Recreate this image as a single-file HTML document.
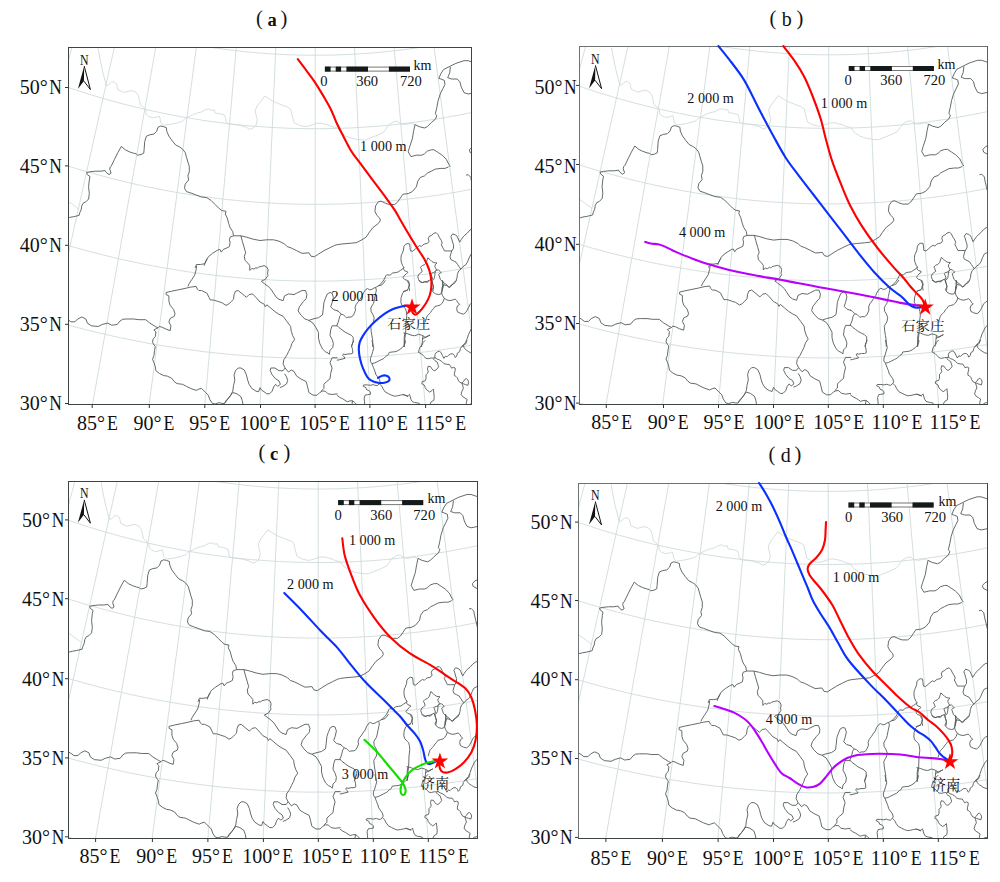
<!DOCTYPE html>
<html><head><meta charset="utf-8"><style>
html,body{margin:0;padding:0;background:#fff;}
svg{display:block;}
text{font-family:"Liberation Serif","Noto Serif CJK SC",serif;fill:#111;}
.cjk{font-family:"Noto Serif CJK SC","Liberation Serif",serif;}
.ax{}
</style></head><body>
<svg width="1000" height="882" viewBox="0 0 1000 882">
<defs>
<g id="base">
<g fill="none" stroke="#ccd8da" stroke-width="0.85">
<path d="M-181,453.1 L-178.7,446.1 L-176.5,439.1 L-174.3,432 L-172,425 L-169.8,417.9 L-167.5,410.8 L-165.3,403.7 L-163,396.6 L-160.7,389.5 L-158.5,382.4 L-156.2,375.2 L-153.9,368.1 L-151.6,361 L-149.4,353.8 L-147.1,346.6 L-144.8,339.4 L-142.5,332.2 L-140.2,325 L-137.9,317.8 L-135.6,310.6 L-133.3,303.4 L-131,296.2 L-128.7,289 L-126.4,281.7 L-124.1,274.5 L-121.8,267.2 L-119.5,260 L-117.2,252.7 L-114.9,245.5 L-112.6,238.2 L-110.3,231 L-108,223.7 L-105.7,216.4 L-103.3,209.2 L-101,201.9 L-98.7,194.7 L-96.4,187.4 L-94.1,180.2 L-91.8,172.9 L-89.5,165.6 L-87.2,158.4 L-84.9,151.2 L-82.6,143.9 L-80.3,136.7 L-78,129.5 L-75.7,122.3 L-73.4,115 L-71.1,107.8 L-68.8,100.7 L-66.5,93.5 L-64.2,86.3 L-62,79.1 L-59.7,72 L-57.4,64.9 L-55.2,57.8 L-52.9,50.7 L-50.6,43.6 L-48.4,36.5 L-46.2,29.4 L-43.9,22.4 L-41.7,15.4 L-39.5,8.4 L-37.2,1.4 L-35,-5.5 L-32.8,-12.4 L-30.6,-19.3 L-28.4,-26.2 L-26.3,-33.1 L-24.1,-39.9 L-21.9,-46.7 L-19.8,-53.4 L-17.6,-60.1 L-15.5,-66.8 L-13.4,-73.5 L-11.3,-80.1 L-9.2,-86.7 L-7.1,-93.2 L-5,-99.7 L-3,-106.2 L-0.9,-112.6"/>
<path d="M-121.4,475.9 L-119.5,468.7 L-117.6,461.6 L-115.6,454.4 L-113.7,447.3 L-111.8,440.1 L-109.8,432.9 L-107.9,425.7 L-105.9,418.5 L-104,411.2 L-102,404 L-100.1,396.7 L-98.1,389.5 L-96.1,382.2 L-94.2,374.9 L-92.2,367.6 L-90.2,360.3 L-88.3,353 L-86.3,345.7 L-84.3,338.3 L-82.3,331 L-80.3,323.7 L-78.4,316.3 L-76.4,309 L-74.4,301.6 L-72.4,294.3 L-70.4,286.9 L-68.4,279.5 L-66.4,272.1 L-64.5,264.8 L-62.5,257.4 L-60.5,250 L-58.5,242.6 L-56.5,235.2 L-54.5,227.9 L-52.5,220.5 L-50.5,213.1 L-48.5,205.7 L-46.5,198.3 L-44.5,191 L-42.6,183.6 L-40.6,176.2 L-38.6,168.9 L-36.6,161.5 L-34.6,154.2 L-32.6,146.8 L-30.7,139.5 L-28.7,132.1 L-26.7,124.8 L-24.7,117.5 L-22.8,110.2 L-20.8,102.9 L-18.8,95.6 L-16.9,88.4 L-14.9,81.1 L-13,73.9 L-11,66.7 L-9.1,59.5 L-7.1,52.3 L-5.2,45.1 L-3.3,38 L-1.3,30.8 L0.6,23.7 L2.5,16.6 L4.4,9.6 L6.3,2.5 L8.2,-4.5 L10.1,-11.5 L11.9,-18.4 L13.8,-25.4 L15.7,-32.3 L17.5,-39.1 L19.4,-46 L21.2,-52.8 L23,-59.6 L24.9,-66.3 L26.7,-73 L28.5,-79.6 L30.2,-86.2 L32,-92.8 L33.8,-99.3"/>
<path d="M-60.9,495.2 L-59.3,488 L-57.7,480.8 L-56.1,473.5 L-54.5,466.2 L-52.8,459 L-51.2,451.7 L-49.6,444.3 L-48,437 L-46.3,429.7 L-44.7,422.3 L-43,415 L-41.4,407.6 L-39.8,400.2 L-38.1,392.9 L-36.5,385.5 L-34.8,378.1 L-33.2,370.6 L-31.5,363.2 L-29.9,355.8 L-28.2,348.4 L-26.5,340.9 L-24.9,333.5 L-23.2,326 L-21.6,318.5 L-19.9,311.1 L-18.2,303.6 L-16.6,296.1 L-14.9,288.7 L-13.2,281.2 L-11.6,273.7 L-9.9,266.2 L-8.2,258.7 L-6.6,251.2 L-4.9,243.8 L-3.2,236.3 L-1.6,228.8 L0.1,221.3 L1.8,213.8 L3.4,206.3 L5.1,198.9 L6.8,191.4 L8.4,183.9 L10.1,176.5 L11.8,169 L13.4,161.6 L15.1,154.1 L16.7,146.7 L18.4,139.3 L20,131.9 L21.7,124.5 L23.3,117.1 L25,109.7 L26.6,102.3 L28.3,95 L29.9,87.6 L31.5,80.3 L33.1,73 L34.8,65.7 L36.4,58.4 L38,51.2 L39.6,43.9 L41.2,36.7 L42.8,29.5 L44.4,22.4 L46,15.2 L47.6,8.1 L49.2,1 L50.7,-6 L52.3,-13 L53.9,-20 L55.4,-27 L57,-33.9 L58.5,-40.8 L60,-47.7 L61.6,-54.5 L63.1,-61.3 L64.6,-68.1 L66.1,-74.8 L67.5,-81.4 L69,-88.1"/>
<path d="M0.3,511.2 L1.6,503.9 L2.9,496.5 L4.2,489.2 L5.5,481.8 L6.8,474.5 L8.1,467.1 L9.4,459.7 L10.7,452.3 L12.1,444.9 L13.4,437.4 L14.7,430 L16,422.5 L17.3,415.1 L18.6,407.6 L20,400.1 L21.3,392.6 L22.6,385.1 L24,377.6 L25.3,370.1 L26.6,362.6 L27.9,355.1 L29.3,347.5 L30.6,340 L31.9,332.5 L33.3,324.9 L34.6,317.4 L36,309.8 L37.3,302.2 L38.6,294.7 L40,287.1 L41.3,279.5 L42.7,272 L44,264.4 L45.3,256.8 L46.7,249.2 L48,241.7 L49.4,234.1 L50.7,226.5 L52,219 L53.4,211.4 L54.7,203.9 L56,196.3 L57.4,188.8 L58.7,181.2 L60,173.7 L61.4,166.2 L62.7,158.6 L64,151.1 L65.4,143.6 L66.7,136.2 L68,128.7 L69.3,121.2 L70.7,113.8 L72,106.3 L73.3,98.9 L74.6,91.5 L75.9,84.1 L77.2,76.7 L78.5,69.4 L79.8,62 L81.1,54.7 L82.4,47.4 L83.7,40.2 L85,32.9 L86.2,25.7 L87.5,18.5 L88.8,11.3 L90,4.2 L91.3,-2.9 L92.5,-10 L93.8,-17 L95,-24 L96.3,-31 L97.5,-38 L98.7,-44.9 L99.9,-51.7 L101.1,-58.6 L102.3,-65.3 L103.5,-72.1 L104.7,-78.8"/>
<path d="M62.2,523.6 L63.2,516.2 L64.1,508.8 L65.1,501.4 L66.1,494 L67.1,486.6 L68.1,479.1 L69,471.7 L70,464.2 L71,456.7 L72,449.2 L73,441.7 L74,434.2 L75,426.7 L76,419.1 L77,411.6 L78,404 L79,396.5 L80,388.9 L81,381.3 L82,373.7 L83,366.1 L84,358.5 L85,350.9 L86,343.3 L87,335.7 L88,328.1 L89,320.5 L90,312.8 L91,305.2 L92,297.6 L93,289.9 L94.1,282.3 L95.1,274.7 L96.1,267 L97.1,259.4 L98.1,251.7 L99.1,244.1 L100.1,236.5 L101.1,228.8 L102.1,221.2 L103.1,213.6 L104.1,206 L105.1,198.4 L106.1,190.8 L107.1,183.2 L108.1,175.6 L109.2,168 L110.2,160.4 L111.2,152.8 L112.1,145.3 L113.1,137.7 L114.1,130.2 L115.1,122.7 L116.1,115.2 L117.1,107.7 L118.1,100.2 L119.1,92.8 L120.1,85.3 L121,77.9 L122,70.5 L123,63.2 L124,55.8 L124.9,48.5 L125.9,41.2 L126.9,33.9 L127.8,26.6 L128.8,19.4 L129.7,12.2 L130.7,5 L131.6,-2.1 L132.6,-9.2 L133.5,-16.3 L134.4,-23.4 L135.3,-30.4 L136.3,-37.3 L137.2,-44.2 L138.1,-51.1 L139,-58 L139.9,-64.8 L140.8,-71.5"/>
<path d="M124.5,532.5 L125.2,525.1 L125.8,517.7 L126.5,510.2 L127.1,502.7 L127.8,495.3 L128.4,487.8 L129.1,480.3 L129.8,472.7 L130.4,465.2 L131.1,457.7 L131.8,450.1 L132.4,442.6 L133.1,435 L133.7,427.4 L134.4,419.8 L135.1,412.2 L135.8,404.6 L136.4,397 L137.1,389.3 L137.8,381.7 L138.4,374.1 L139.1,366.4 L139.8,358.8 L140.4,351.1 L141.1,343.4 L141.8,335.8 L142.5,328.1 L143.1,320.4 L143.8,312.8 L144.5,305.1 L145.2,297.4 L145.8,289.7 L146.5,282 L147.2,274.3 L147.9,266.6 L148.5,259 L149.2,251.3 L149.9,243.6 L150.6,235.9 L151.2,228.2 L151.9,220.6 L152.6,212.9 L153.3,205.2 L153.9,197.6 L154.6,189.9 L155.3,182.3 L155.9,174.7 L156.6,167.1 L157.3,159.4 L157.9,151.8 L158.6,144.3 L159.3,136.7 L159.9,129.1 L160.6,121.6 L161.3,114 L161.9,106.5 L162.6,99 L163.2,91.5 L163.9,84.1 L164.6,76.6 L165.2,69.2 L165.9,61.8 L166.5,54.4 L167.2,47.1 L167.8,39.7 L168.4,32.4 L169.1,25.1 L169.7,17.9 L170.3,10.7 L171,3.5 L171.6,-3.7 L172.2,-10.8 L172.9,-17.9 L173.5,-24.9 L174.1,-31.9 L174.7,-38.9 L175.3,-45.8 L175.9,-52.7 L176.5,-59.5 L177.1,-66.3"/>
<path d="M187.2,537.9 L187.5,530.4 L187.8,523 L188.1,515.5 L188.5,508 L188.8,500.5 L189.1,493 L189.5,485.4 L189.8,477.9 L190.1,470.3 L190.5,462.8 L190.8,455.2 L191.1,447.6 L191.5,440 L191.8,432.4 L192.1,424.8 L192.5,417.1 L192.8,409.5 L193.1,401.8 L193.5,394.2 L193.8,386.5 L194.2,378.9 L194.5,371.2 L194.8,363.5 L195.2,355.8 L195.5,348.1 L195.9,340.4 L196.2,332.7 L196.5,325 L196.9,317.3 L197.2,309.6 L197.5,301.9 L197.9,294.2 L198.2,286.4 L198.6,278.7 L198.9,271 L199.2,263.3 L199.6,255.6 L199.9,247.9 L200.3,240.2 L200.6,232.5 L200.9,224.8 L201.3,217.1 L201.6,209.4 L202,201.7 L202.3,194 L202.6,186.4 L203,178.7 L203.3,171.1 L203.6,163.4 L204,155.8 L204.3,148.2 L204.6,140.6 L205,133 L205.3,125.4 L205.7,117.8 L206,110.3 L206.3,102.8 L206.6,95.2 L207,87.8 L207.3,80.3 L207.6,72.8 L208,65.4 L208.3,58 L208.6,50.6 L208.9,43.3 L209.3,35.9 L209.6,28.6 L209.9,21.3 L210.2,14.1 L210.5,6.9 L210.9,-0.3 L211.2,-7.4 L211.5,-14.5 L211.8,-21.6 L212.1,-28.6 L212.4,-35.6 L212.7,-42.6 L213,-49.5 L213.3,-56.4 L213.6,-63.2"/>
<path d="M250,539.7 L250,532.2 L250,524.8 L250,517.3 L250,509.8 L250,502.3 L250,494.7 L250,487.2 L250,479.6 L250,472.1 L250,464.5 L250,456.9 L250,449.3 L250,441.7 L250,434.1 L250,426.4 L250,418.8 L250,411.1 L250,403.5 L250,395.8 L250,388.1 L250,380.5 L250,372.8 L250,365.1 L250,357.4 L250,349.7 L250,342 L250,334.3 L250,326.6 L250.1,318.8 L250.1,311.1 L250.1,303.4 L250.1,295.7 L250.1,287.9 L250.1,280.2 L250.1,272.5 L250.1,264.8 L250.1,257.1 L250.1,249.3 L250.1,241.6 L250.1,233.9 L250.1,226.2 L250.1,218.5 L250.1,210.8 L250.1,203.1 L250.1,195.4 L250.1,187.7 L250.1,180.1 L250.1,172.4 L250.1,164.8 L250.1,157.1 L250.1,149.5 L250.1,141.9 L250.1,134.3 L250.1,126.7 L250.1,119.1 L250.1,111.6 L250.1,104 L250.2,96.5 L250.2,89 L250.2,81.5 L250.2,74.1 L250.2,66.6 L250.2,59.2 L250.2,51.8 L250.2,44.4 L250.2,37.1 L250.2,29.8 L250.2,22.5 L250.2,15.3 L250.2,8 L250.2,0.9 L250.2,-6.3 L250.2,-13.4 L250.2,-20.5 L250.2,-27.5 L250.2,-34.5 L250.2,-41.5 L250.2,-48.4 L250.2,-55.3 L250.2,-62.1"/>
<path d="M312.8,538 L312.4,530.5 L312.1,523 L311.8,515.6 L311.5,508.1 L311.1,500.6 L310.8,493 L310.5,485.5 L310.2,478 L309.8,470.4 L309.5,462.8 L309.2,455.3 L308.9,447.7 L308.5,440.1 L308.2,432.4 L307.9,424.8 L307.5,417.2 L307.2,409.6 L306.9,401.9 L306.6,394.3 L306.2,386.6 L305.9,378.9 L305.6,371.2 L305.2,363.6 L304.9,355.9 L304.6,348.2 L304.2,340.5 L303.9,332.8 L303.6,325.1 L303.2,317.4 L302.9,309.7 L302.6,301.9 L302.2,294.2 L301.9,286.5 L301.6,278.8 L301.2,271.1 L300.9,263.4 L300.6,255.7 L300.2,247.9 L299.9,240.2 L299.6,232.5 L299.2,224.8 L298.9,217.1 L298.6,209.5 L298.3,201.8 L297.9,194.1 L297.6,186.4 L297.3,178.8 L296.9,171.1 L296.6,163.5 L296.3,155.8 L295.9,148.2 L295.6,140.6 L295.3,133 L295,125.4 L294.6,117.9 L294.3,110.3 L294,102.8 L293.7,95.3 L293.3,87.8 L293,80.3 L292.7,72.9 L292.4,65.4 L292.1,58 L291.7,50.7 L291.4,43.3 L291.1,36 L290.8,28.7 L290.5,21.4 L290.2,14.2 L289.8,6.9 L289.5,-0.2 L289.2,-7.4 L288.9,-14.5 L288.6,-21.6 L288.3,-28.6 L288,-35.6 L287.7,-42.6 L287.4,-49.5 L287.1,-56.3 L286.8,-63.2"/>
<path d="M375.4,532.7 L374.8,525.2 L374.1,517.8 L373.5,510.3 L372.8,502.9 L372.2,495.4 L371.5,487.9 L370.9,480.4 L370.2,472.9 L369.5,465.4 L368.9,457.8 L368.2,450.3 L367.6,442.7 L366.9,435.1 L366.3,427.5 L365.6,419.9 L364.9,412.3 L364.3,404.7 L363.6,397.1 L363,389.5 L362.3,381.8 L361.6,374.2 L361,366.6 L360.3,358.9 L359.6,351.2 L359,343.6 L358.3,335.9 L357.6,328.2 L357,320.6 L356.3,312.9 L355.6,305.2 L355,297.5 L354.3,289.8 L353.6,282.1 L353,274.4 L352.3,266.8 L351.6,259.1 L350.9,251.4 L350.3,243.7 L349.6,236 L348.9,228.4 L348.3,220.7 L347.6,213 L346.9,205.4 L346.3,197.7 L345.6,190.1 L345,182.4 L344.3,174.8 L343.6,167.2 L343,159.5 L342.3,151.9 L341.6,144.4 L341,136.8 L340.3,129.2 L339.7,121.7 L339,114.1 L338.4,106.6 L337.7,99.1 L337.1,91.6 L336.4,84.2 L335.8,76.7 L335.1,69.3 L334.5,61.9 L333.8,54.5 L333.2,47.2 L332.6,39.8 L331.9,32.5 L331.3,25.2 L330.7,18 L330,10.8 L329.4,3.6 L328.8,-3.6 L328.2,-10.7 L327.6,-17.8 L326.9,-24.8 L326.3,-31.8 L325.7,-38.8 L325.1,-45.7 L324.5,-52.6 L323.9,-59.4 L323.3,-66.2"/>
<path d="M437.7,523.8 L436.8,516.4 L435.8,509.1 L434.8,501.6 L433.9,494.2 L432.9,486.8 L431.9,479.3 L430.9,471.9 L429.9,464.4 L429,456.9 L428,449.4 L427,441.9 L426,434.4 L425,426.9 L424,419.3 L423,411.8 L422.1,404.2 L421.1,396.7 L420.1,389.1 L419.1,381.5 L418.1,373.9 L417.1,366.3 L416.1,358.7 L415.1,351.1 L414.1,343.5 L413.1,335.9 L412.1,328.3 L411.1,320.6 L410.1,313 L409.1,305.4 L408.1,297.8 L407.1,290.1 L406.1,282.5 L405.1,274.8 L404.1,267.2 L403.1,259.6 L402.1,251.9 L401.1,244.3 L400.1,236.6 L399.1,229 L398.1,221.4 L397.1,213.8 L396.1,206.1 L395.1,198.5 L394.1,190.9 L393.1,183.3 L392.1,175.7 L391.1,168.1 L390.1,160.6 L389.1,153 L388.1,145.5 L387.1,137.9 L386.1,130.4 L385.1,122.9 L384.2,115.4 L383.2,107.9 L382.2,100.4 L381.2,92.9 L380.2,85.5 L379.3,78.1 L378.3,70.7 L377.3,63.3 L376.4,55.9 L375.4,48.6 L374.5,41.3 L373.5,34 L372.5,26.8 L371.6,19.5 L370.7,12.3 L369.7,5.1 L368.8,-2 L367.8,-9.1 L366.9,-16.2 L366,-23.2 L365.1,-30.2 L364.2,-37.2 L363.3,-44.1 L362.3,-51 L361.5,-57.8 L360.6,-64.6 L359.7,-71.4"/>
<path d="M499.6,511.5 L498.3,504.1 L497,496.8 L495.7,489.5 L494.4,482.1 L493.2,474.7 L491.9,467.4 L490.5,460 L489.2,452.6 L487.9,445.1 L486.6,437.7 L485.3,430.3 L484,422.8 L482.7,415.4 L481.4,407.9 L480.1,400.4 L478.7,392.9 L477.4,385.4 L476.1,377.9 L474.8,370.4 L473.5,362.9 L472.1,355.3 L470.8,347.8 L469.5,340.3 L468.1,332.7 L466.8,325.2 L465.5,317.6 L464.2,310 L462.8,302.5 L461.5,294.9 L460.2,287.3 L458.8,279.8 L457.5,272.2 L456.2,264.6 L454.8,257.1 L453.5,249.5 L452.2,241.9 L450.8,234.3 L449.5,226.8 L448.2,219.2 L446.8,211.6 L445.5,204.1 L444.2,196.5 L442.8,189 L441.5,181.4 L440.2,173.9 L438.9,166.4 L437.5,158.9 L436.2,151.4 L434.9,143.9 L433.6,136.4 L432.3,128.9 L431,121.4 L429.6,114 L428.3,106.5 L427,99.1 L425.7,91.7 L424.4,84.3 L423.1,76.9 L421.8,69.6 L420.5,62.2 L419.2,54.9 L418,47.6 L416.7,40.4 L415.4,33.1 L414.1,25.9 L412.9,18.7 L411.6,11.5 L410.3,4.4 L409.1,-2.7 L407.8,-9.8 L406.6,-16.8 L405.4,-23.9 L404.1,-30.8 L402.9,-37.8 L401.7,-44.7 L400.5,-51.6 L399.3,-58.4 L398.1,-65.2 L396.9,-71.9 L395.7,-78.6"/>
<path d="M560.9,495.6 L559.3,488.4 L557.7,481.1 L556.1,473.9 L554.4,466.6 L552.8,459.3 L551.2,452 L549.6,444.7 L548,437.4 L546.3,430 L544.7,422.7 L543.1,415.3 L541.4,408 L539.8,400.6 L538.2,393.2 L536.5,385.8 L534.9,378.4 L533.2,371 L531.6,363.5 L529.9,356.1 L528.3,348.7 L526.6,341.2 L525,333.8 L523.3,326.3 L521.7,318.9 L520,311.4 L518.4,303.9 L516.7,296.4 L515,289 L513.4,281.5 L511.7,274 L510.1,266.5 L508.4,259 L506.7,251.5 L505.1,244.1 L503.4,236.6 L501.7,229.1 L500.1,221.6 L498.4,214.1 L496.8,206.6 L495.1,199.2 L493.5,191.7 L491.8,184.2 L490.1,176.7 L488.5,169.3 L486.8,161.8 L485.2,154.4 L483.5,147 L481.9,139.5 L480.2,132.1 L478.6,124.7 L477,117.3 L475.3,109.9 L473.7,102.6 L472.1,95.2 L470.4,87.9 L468.8,80.5 L467.2,73.2 L465.6,66 L463.9,58.7 L462.3,51.4 L460.7,44.2 L459.1,37 L457.5,29.8 L455.9,22.6 L454.4,15.5 L452.8,8.4 L451.2,1.3 L449.6,-5.8 L448.1,-12.8 L446.5,-19.8 L445,-26.8 L443.5,-33.7 L441.9,-40.6 L440.4,-47.5 L438.9,-54.3 L437.4,-61.1 L435.9,-67.8 L434.4,-74.6 L432.9,-81.2 L431.4,-87.8"/>
<path d="M-268.2,329.7 L-262.8,332.7 L-257.5,335.6 L-252.1,338.4 L-246.6,341.3 L-241.2,344.1 L-235.8,346.8 L-230.3,349.6 L-224.9,352.3 L-219.4,355 L-213.9,357.6 L-208.4,360.2 L-202.9,362.8 L-197.4,365.4 L-191.9,367.9 L-186.3,370.4 L-180.8,372.9 L-175.2,375.3 L-169.6,377.7 L-164.1,380 L-158.5,382.4 L-152.9,384.7 L-147.3,387 L-141.6,389.2 L-136,391.4 L-130.4,393.6 L-124.7,395.7 L-119,397.8 L-113.4,399.9 L-107.7,402 L-102,404 L-96.3,406 L-90.6,407.9 L-84.9,409.8 L-79.2,411.7 L-73.4,413.6 L-67.7,415.4 L-62,417.2 L-56.2,418.9 L-50.5,420.7 L-44.7,422.3 L-38.9,424 L-33.1,425.6 L-27.3,427.2 L-21.5,428.8 L-15.7,430.3 L-9.9,431.8 L-4.1,433.3 L1.7,434.7 L7.5,436.1 L13.4,437.4 L19.2,438.8 L25.1,440.1 L30.9,441.3 L36.8,442.5 L42.6,443.7 L48.5,444.9 L54.4,446 L60.2,447.1 L66.1,448.2 L72,449.2 L77.9,450.2 L83.8,451.2 L89.7,452.1 L95.6,453 L101.5,453.9 L107.4,454.7 L113.3,455.5 L119.2,456.3 L125.2,457 L131.1,457.7 L137,458.3 L142.9,459 L148.9,459.6 L154.8,460.1 L160.7,460.6 L166.7,461.1 L172.6,461.6 L178.6,462 L184.5,462.4 L190.5,462.8 L196.4,463.1 L202.4,463.4 L208.3,463.6 L214.3,463.9 L220.2,464 L226.2,464.2 L232.1,464.3 L238.1,464.4 L244,464.5 L250,464.5 L255.9,464.5 L261.9,464.4 L267.9,464.3 L273.8,464.2 L279.8,464.1 L285.7,463.9 L291.7,463.7 L297.6,463.4 L303.6,463.2 L309.5,462.8 L315.5,462.5 L321.4,462.1 L327.3,461.7 L333.3,461.2 L339.2,460.7 L345.2,460.2 L351.1,459.7 L357,459.1 L363,458.5 L368.9,457.8 L374.8,457.1 L380.7,456.4 L386.7,455.6 L392.6,454.9 L398.5,454 L404.4,453.2 L410.3,452.3 L416.2,451.4 L422.1,450.4 L428,449.4 L433.9,448.4 L439.7,447.4 L445.6,446.3 L451.5,445.1 L457.4,444 L463.2,442.8 L469.1,441.6 L474.9,440.3 L480.8,439 L486.6,437.7 L492.5,436.4 L498.3,435 L504.1,433.5 L509.9,432.1 L515.7,430.6 L521.5,429.1 L527.3,427.5 L533.1,426 L538.9,424.3 L544.7,422.7 L550.5,421 L556.2,419.3 L562,417.5 L567.7,415.8 L573.5,413.9 L579.2,412.1 L584.9,410.2 L590.6,408.3 L596.3,406.4 L602,404.4 L607.7,402.4 L613.4,400.3 L619.1,398.3 L624.7,396.2 L630.4,394 L636,391.9 L641.7,389.7 L647.3,387.4 L652.9,385.2 L658.5,382.9"/>
<path d="M-239.3,260.9 L-234.2,263.7 L-229.1,266.4 L-224,269.1 L-218.9,271.8 L-213.8,274.5 L-208.6,277.1 L-203.5,279.7 L-198.3,282.2 L-193.2,284.7 L-188,287.2 L-182.8,289.7 L-177.6,292.2 L-172.4,294.6 L-167.2,297 L-161.9,299.3 L-156.7,301.6 L-151.4,303.9 L-146.2,306.2 L-140.9,308.4 L-135.6,310.6 L-130.3,312.8 L-125,314.9 L-119.7,317.1 L-114.4,319.1 L-109.1,321.2 L-103.8,323.2 L-98.4,325.2 L-93.1,327.2 L-87.7,329.1 L-82.3,331 L-76.9,332.9 L-71.6,334.7 L-66.2,336.5 L-60.8,338.3 L-55.4,340.1 L-49.9,341.8 L-44.5,343.5 L-39.1,345.1 L-33.6,346.8 L-28.2,348.4 L-22.7,349.9 L-17.3,351.5 L-11.8,353 L-6.4,354.4 L-0.9,355.9 L4.6,357.3 L10.1,358.7 L15.6,360 L21.1,361.3 L26.6,362.6 L32.1,363.9 L37.6,365.1 L43.2,366.3 L48.7,367.4 L54.2,368.6 L59.8,369.7 L65.3,370.7 L70.9,371.8 L76.4,372.8 L82,373.7 L87.5,374.7 L93.1,375.6 L98.7,376.5 L104.2,377.3 L109.8,378.1 L115.4,378.9 L121,379.7 L126.6,380.4 L132.2,381.1 L137.8,381.7 L143.4,382.3 L149,382.9 L154.6,383.5 L160.2,384 L165.8,384.5 L171.4,385 L177,385.4 L182.6,385.8 L188.2,386.2 L193.8,386.5 L199.4,386.8 L205.1,387.1 L210.7,387.3 L216.3,387.6 L221.9,387.7 L227.5,387.9 L233.2,388 L238.8,388.1 L244.4,388.1 L250,388.1 L255.6,388.1 L261.3,388.1 L266.9,388 L272.5,387.9 L278.1,387.8 L283.8,387.6 L289.4,387.4 L295,387.2 L300.6,386.9 L306.2,386.6 L311.8,386.3 L317.5,385.9 L323.1,385.5 L328.7,385.1 L334.3,384.6 L339.9,384.1 L345.5,383.6 L351.1,383 L356.7,382.5 L362.3,381.8 L367.9,381.2 L373.5,380.5 L379.1,379.8 L384.6,379.1 L390.2,378.3 L395.8,377.5 L401.4,376.6 L406.9,375.8 L412.5,374.9 L418.1,373.9 L423.6,373 L429.2,372 L434.7,370.9 L440.3,369.9 L445.8,368.8 L451.4,367.7 L456.9,366.5 L462.4,365.3 L467.9,364.1 L473.5,362.9 L479,361.6 L484.5,360.3 L490,358.9 L495.5,357.6 L500.9,356.2 L506.4,354.7 L511.9,353.3 L517.4,351.8 L522.8,350.2 L528.3,348.7 L533.7,347.1 L539.2,345.5 L544.6,343.8 L550,342.1 L555.4,340.4 L560.9,338.7 L566.3,336.9 L571.7,335.1 L577,333.3 L582.4,331.4 L587.8,329.5 L593.2,327.6 L598.5,325.6 L603.9,323.6 L609.2,321.6 L614.5,319.6 L619.8,317.5 L625.2,315.4 L630.5,313.2 L635.7,311.1"/>
<path d="M-210,191.5 L-205.3,194.1 L-200.5,196.7 L-195.7,199.2 L-190.9,201.7 L-186.1,204.2 L-181.2,206.7 L-176.4,209.1 L-171.5,211.5 L-166.7,213.9 L-161.8,216.2 L-156.9,218.6 L-152.1,220.9 L-147.2,223.1 L-142.2,225.4 L-137.3,227.6 L-132.4,229.8 L-127.5,231.9 L-122.5,234.1 L-117.6,236.2 L-112.6,238.2 L-107.6,240.3 L-102.6,242.3 L-97.6,244.3 L-92.6,246.2 L-87.6,248.2 L-82.6,250.1 L-77.6,251.9 L-72.6,253.8 L-67.5,255.6 L-62.5,257.4 L-57.4,259.2 L-52.3,260.9 L-47.3,262.6 L-42.2,264.3 L-37.1,265.9 L-32,267.5 L-26.9,269.1 L-21.8,270.7 L-16.7,272.2 L-11.6,273.7 L-6.4,275.2 L-1.3,276.6 L3.8,278 L9,279.4 L14.1,280.8 L19.3,282.1 L24.5,283.4 L29.6,284.7 L34.8,285.9 L40,287.1 L45.2,288.3 L50.3,289.4 L55.5,290.6 L60.7,291.6 L65.9,292.7 L71.2,293.7 L76.4,294.7 L81.6,295.7 L86.8,296.7 L92,297.6 L97.3,298.5 L102.5,299.3 L107.7,300.1 L113,300.9 L118.2,301.7 L123.5,302.4 L128.7,303.1 L134,303.8 L139.2,304.5 L144.5,305.1 L149.8,305.7 L155,306.2 L160.3,306.7 L165.6,307.2 L170.8,307.7 L176.1,308.1 L181.4,308.5 L186.6,308.9 L191.9,309.3 L197.2,309.6 L202.5,309.9 L207.8,310.1 L213.1,310.4 L218.3,310.6 L223.6,310.7 L228.9,310.9 L234.2,311 L239.5,311.1 L244.8,311.1 L250.1,311.1 L255.3,311.1 L260.6,311.1 L265.9,311 L271.2,310.9 L276.5,310.8 L281.8,310.6 L287.1,310.4 L292.3,310.2 L297.6,309.9 L302.9,309.7 L308.2,309.3 L313.5,309 L318.7,308.6 L324,308.2 L329.3,307.8 L334.6,307.3 L339.8,306.8 L345.1,306.3 L350.4,305.8 L355.6,305.2 L360.9,304.6 L366.1,303.9 L371.4,303.3 L376.6,302.6 L381.9,301.8 L387.1,301.1 L392.4,300.3 L397.6,299.5 L402.9,298.6 L408.1,297.8 L413.3,296.8 L418.5,295.9 L423.8,294.9 L429,293.9 L434.2,292.9 L439.4,291.9 L444.6,290.8 L449.8,289.7 L455,288.5 L460.2,287.3 L465.3,286.1 L470.5,284.9 L475.7,283.7 L480.9,282.4 L486,281 L491.2,279.7 L496.3,278.3 L501.5,276.9 L506.6,275.5 L511.7,274 L516.8,272.5 L522,271 L527.1,269.4 L532.2,267.9 L537.3,266.2 L542.3,264.6 L547.4,262.9 L552.5,261.2 L557.6,259.5 L562.6,257.8 L567.7,256 L572.7,254.2 L577.8,252.3 L582.8,250.5 L587.8,248.6 L592.8,246.6 L597.8,244.7 L602.8,242.7 L607.8,240.7 L612.8,238.6"/>
<path d="M-180.7,121.9 L-176.3,124.3 L-171.8,126.7 L-167.3,129.1 L-162.8,131.5 L-158.3,133.8 L-153.8,136.1 L-149.2,138.4 L-144.7,140.6 L-140.2,142.9 L-135.6,145.1 L-131,147.2 L-126.4,149.4 L-121.9,151.5 L-117.3,153.6 L-112.7,155.7 L-108,157.7 L-103.4,159.7 L-98.8,161.7 L-94.1,163.7 L-89.5,165.6 L-84.8,167.6 L-80.2,169.5 L-75.5,171.3 L-70.8,173.1 L-66.1,175 L-61.4,176.7 L-56.7,178.5 L-52,180.2 L-47.3,181.9 L-42.6,183.6 L-37.8,185.2 L-33.1,186.9 L-28.3,188.5 L-23.6,190 L-18.8,191.6 L-14,193.1 L-9.3,194.6 L-4.5,196 L0.3,197.5 L5.1,198.9 L9.9,200.2 L14.7,201.6 L19.5,202.9 L24.3,204.2 L29.2,205.5 L34,206.7 L38.8,207.9 L43.7,209.1 L48.5,210.3 L53.4,211.4 L58.2,212.5 L63.1,213.6 L67.9,214.6 L72.8,215.7 L77.7,216.7 L82.6,217.6 L87.5,218.6 L92.3,219.5 L97.2,220.4 L102.1,221.2 L107,222 L111.9,222.8 L116.8,223.6 L121.7,224.4 L126.6,225.1 L131.6,225.8 L136.5,226.4 L141.4,227.1 L146.3,227.7 L151.2,228.2 L156.2,228.8 L161.1,229.3 L166,229.8 L171,230.3 L175.9,230.7 L180.8,231.1 L185.8,231.5 L190.7,231.9 L195.7,232.2 L200.6,232.5 L205.5,232.7 L210.5,233 L215.4,233.2 L220.4,233.4 L225.3,233.5 L230.3,233.7 L235.2,233.8 L240.2,233.8 L245.1,233.9 L250.1,233.9 L255,233.9 L260,233.9 L264.9,233.8 L269.9,233.7 L274.8,233.6 L279.8,233.4 L284.7,233.2 L289.7,233 L294.6,232.8 L299.6,232.5 L304.5,232.2 L309.5,231.9 L314.4,231.6 L319.3,231.2 L324.3,230.8 L329.2,230.4 L334.2,229.9 L339.1,229.4 L344,228.9 L348.9,228.4 L353.9,227.8 L358.8,227.2 L363.7,226.6 L368.6,225.9 L373.5,225.2 L378.5,224.5 L383.4,223.8 L388.3,223 L393.2,222.2 L398.1,221.4 L403,220.5 L407.9,219.7 L412.7,218.8 L417.6,217.8 L422.5,216.9 L427.4,215.9 L432.3,214.9 L437.1,213.8 L442,212.7 L446.8,211.6 L451.7,210.5 L456.5,209.4 L461.4,208.2 L466.2,207 L471,205.7 L475.9,204.5 L480.7,203.2 L485.5,201.9 L490.3,200.5 L495.1,199.2 L499.9,197.8 L504.7,196.3 L509.5,194.9 L514.3,193.4 L519,191.9 L523.8,190.3 L528.6,188.8 L533.3,187.2 L538,185.6 L542.8,183.9 L547.5,182.3 L552.2,180.6 L557,178.8 L561.7,177.1 L566.4,175.3 L571,173.5 L575.7,171.7 L580.4,169.8 L585.1,168 L589.7,166"/>
<path d="M-151.6,52.7 L-147.4,54.9 L-143.3,57.2 L-139.1,59.4 L-134.9,61.6 L-130.7,63.8 L-126.5,65.9 L-122.2,68 L-118,70.1 L-113.8,72.2 L-109.5,74.3 L-105.3,76.3 L-101,78.3 L-96.7,80.3 L-92.4,82.2 L-88.1,84.2 L-83.8,86.1 L-79.5,88 L-75.2,89.8 L-70.9,91.7 L-66.5,93.5 L-62.2,95.3 L-57.8,97 L-53.5,98.8 L-49.1,100.5 L-44.7,102.2 L-40.4,103.8 L-36,105.5 L-31.6,107.1 L-27.2,108.7 L-22.8,110.2 L-18.3,111.7 L-13.9,113.3 L-9.5,114.7 L-5.1,116.2 L-0.6,117.6 L3.8,119.1 L8.3,120.4 L12.7,121.8 L17.2,123.1 L21.7,124.5 L26.2,125.7 L30.6,127 L35.1,128.2 L39.6,129.4 L44.1,130.6 L48.6,131.8 L53.1,132.9 L57.6,134 L62.2,135.1 L66.7,136.2 L71.2,137.2 L75.7,138.2 L80.3,139.2 L84.8,140.1 L89.4,141 L93.9,141.9 L98.5,142.8 L103,143.7 L107.6,144.5 L112.1,145.3 L116.7,146.1 L121.3,146.8 L125.9,147.5 L130.4,148.2 L135,148.9 L139.6,149.5 L144.2,150.1 L148.8,150.7 L153.4,151.3 L157.9,151.8 L162.5,152.4 L167.1,152.8 L171.7,153.3 L176.3,153.7 L180.9,154.1 L185.5,154.5 L190.2,154.9 L194.8,155.2 L199.4,155.5 L204,155.8 L208.6,156 L213.2,156.3 L217.8,156.5 L222.4,156.6 L227,156.8 L231.7,156.9 L236.3,157 L240.9,157.1 L245.5,157.1 L250.1,157.1 L254.7,157.1 L259.4,157.1 L264,157 L268.6,156.9 L273.2,156.8 L277.8,156.7 L282.4,156.5 L287,156.3 L291.7,156.1 L296.3,155.8 L300.9,155.6 L305.5,155.3 L310.1,154.9 L314.7,154.6 L319.3,154.2 L323.9,153.8 L328.5,153.4 L333.1,152.9 L337.7,152.5 L342.3,151.9 L346.9,151.4 L351.5,150.9 L356.1,150.3 L360.7,149.7 L365.2,149 L369.8,148.4 L374.4,147.7 L379,147 L383.5,146.2 L388.1,145.5 L392.7,144.7 L397.2,143.8 L401.8,143 L406.3,142.1 L410.9,141.2 L415.4,140.3 L420,139.4 L424.5,138.4 L429.1,137.4 L433.6,136.4 L438.1,135.3 L442.6,134.2 L447.1,133.1 L451.6,132 L456.2,130.9 L460.7,129.7 L465.1,128.5 L469.6,127.2 L474.1,126 L478.6,124.7 L483.1,123.4 L487.5,122.1 L492,120.7 L496.5,119.3 L500.9,117.9 L505.3,116.5 L509.8,115 L514.2,113.6 L518.6,112.1 L523.1,110.5 L527.5,109 L531.9,107.4 L536.3,105.8 L540.7,104.2 L545,102.5 L549.4,100.8 L553.8,99.1 L558.1,97.4 L562.5,95.6 L566.8,93.8"/>
<path d="M-122.9,-15.5 L-119.1,-13.4 L-115.2,-11.3 L-111.3,-9.2 L-107.4,-7.2 L-103.5,-5.2 L-99.6,-3.2 L-95.7,-1.2 L-91.7,0.7 L-87.8,2.7 L-83.8,4.6 L-79.9,6.5 L-75.9,8.3 L-71.9,10.2 L-68,12 L-64,13.8 L-60,15.6 L-56,17.3 L-52,19 L-47.9,20.7 L-43.9,22.4 L-39.9,24.1 L-35.8,25.7 L-31.8,27.3 L-27.7,28.9 L-23.7,30.5 L-19.6,32 L-15.5,33.5 L-11.4,35 L-7.4,36.5 L-3.3,38 L0.8,39.4 L4.9,40.8 L9.1,42.2 L13.2,43.5 L17.3,44.9 L21.4,46.2 L25.6,47.5 L29.7,48.7 L33.9,50 L38,51.2 L42.2,52.4 L46.3,53.5 L50.5,54.7 L54.7,55.8 L58.8,56.9 L63,58 L67.2,59 L71.4,60.1 L75.6,61.1 L79.8,62 L84,63 L88.2,63.9 L92.4,64.8 L96.6,65.7 L100.9,66.6 L105.1,67.4 L109.3,68.2 L113.5,69 L117.8,69.8 L122,70.5 L126.3,71.2 L130.5,71.9 L134.8,72.6 L139,73.3 L143.3,73.9 L147.5,74.5 L151.8,75 L156,75.6 L160.3,76.1 L164.6,76.6 L168.8,77.1 L173.1,77.5 L177.4,78 L181.6,78.4 L185.9,78.8 L190.2,79.1 L194.5,79.4 L198.7,79.7 L203,80 L207.3,80.3 L211.6,80.5 L215.9,80.7 L220.2,80.9 L224.4,81.1 L228.7,81.2 L233,81.3 L237.3,81.4 L241.6,81.5 L245.9,81.5 L250.2,81.5 L254.4,81.5 L258.7,81.5 L263,81.4 L267.3,81.3 L271.6,81.2 L275.9,81.1 L280.2,80.9 L284.4,80.8 L288.7,80.6 L293,80.3 L297.3,80.1 L301.6,79.8 L305.9,79.5 L310.1,79.2 L314.4,78.8 L318.7,78.5 L323,78.1 L327.2,77.6 L331.5,77.2 L335.8,76.7 L340,76.2 L344.3,75.7 L348.6,75.2 L352.8,74.6 L357.1,74 L361.3,73.4 L365.6,72.7 L369.8,72.1 L374.1,71.4 L378.3,70.7 L382.5,69.9 L386.8,69.2 L391,68.4 L395.2,67.6 L399.5,66.8 L403.7,65.9 L407.9,65 L412.1,64.1 L416.3,63.2 L420.5,62.2 L424.7,61.3 L428.9,60.3 L433.1,59.2 L437.3,58.2 L441.5,57.1 L445.7,56 L449.8,54.9 L454,53.8 L458.2,52.6 L462.3,51.4 L466.5,50.2 L470.6,49 L474.8,47.7 L478.9,46.4 L483.1,45.1 L487.2,43.8 L491.3,42.4 L495.4,41.1 L499.5,39.7 L503.6,38.2 L507.7,36.8 L511.8,35.3 L515.9,33.8 L520,32.3 L524,30.8 L528.1,29.2 L532.2,27.6 L536.2,26 L540.2,24.4 L544.3,22.8"/>
<path d="M-95,-81.7 L-91.5,-79.8 L-87.9,-77.9 L-84.3,-75.9 L-80.7,-74.1 L-77.1,-72.2 L-73.4,-70.3 L-69.8,-68.5 L-66.2,-66.7 L-62.5,-64.9 L-58.9,-63.2 L-55.2,-61.4 L-51.5,-59.7 L-47.9,-58 L-44.2,-56.3 L-40.5,-54.6 L-36.8,-53 L-33.1,-51.4 L-29.4,-49.8 L-25.7,-48.2 L-21.9,-46.7 L-18.2,-45.1 L-14.5,-43.6 L-10.7,-42.1 L-7,-40.7 L-3.2,-39.2 L0.6,-37.8 L4.3,-36.4 L8.1,-35 L11.9,-33.6 L15.7,-32.3 L19.5,-31 L23.3,-29.7 L27.1,-28.4 L30.9,-27.1 L34.7,-25.9 L38.5,-24.7 L42.4,-23.5 L46.2,-22.3 L50,-21.2 L53.9,-20 L57.7,-18.9 L61.6,-17.9 L65.4,-16.8 L69.3,-15.8 L73.2,-14.7 L77,-13.7 L80.9,-12.8 L84.8,-11.8 L88.7,-10.9 L92.5,-10 L96.4,-9.1 L100.3,-8.2 L104.2,-7.4 L108.1,-6.6 L112,-5.8 L115.9,-5 L119.9,-4.3 L123.8,-3.5 L127.7,-2.8 L131.6,-2.1 L135.5,-1.5 L139.5,-0.8 L143.4,-0.2 L147.3,0.4 L151.3,1 L155.2,1.5 L159.1,2 L163.1,2.6 L167,3 L171,3.5 L174.9,3.9 L178.9,4.4 L182.8,4.8 L186.8,5.1 L190.7,5.5 L194.7,5.8 L198.7,6.1 L202.6,6.4 L206.6,6.7 L210.5,6.9 L214.5,7.1 L218.5,7.3 L222.4,7.5 L226.4,7.6 L230.4,7.7 L234.3,7.9 L238.3,7.9 L242.3,8 L246.2,8 L250.2,8 L254.2,8 L258.1,8 L262.1,7.9 L266.1,7.9 L270,7.8 L274,7.6 L278,7.5 L281.9,7.3 L285.9,7.1 L289.8,6.9 L293.8,6.7 L297.8,6.4 L301.7,6.2 L305.7,5.9 L309.6,5.5 L313.6,5.2 L317.6,4.8 L321.5,4.4 L325.5,4 L329.4,3.6 L333.4,3.1 L337.3,2.7 L341.2,2.2 L345.2,1.6 L349.1,1.1 L353.1,0.5 L357,-0.1 L360.9,-0.7 L364.9,-1.3 L368.8,-2 L372.7,-2.7 L376.6,-3.4 L380.5,-4.1 L384.4,-4.8 L388.4,-5.6 L392.3,-6.4 L396.2,-7.2 L400.1,-8.1 L404,-8.9 L407.8,-9.8 L411.7,-10.7 L415.6,-11.6 L419.5,-12.6 L423.4,-13.5 L427.2,-14.5 L431.1,-15.5 L435,-16.6 L438.8,-17.6 L442.7,-18.7 L446.5,-19.8 L450.4,-20.9 L454.2,-22.1 L458.1,-23.2 L461.9,-24.4 L465.7,-25.6 L469.5,-26.9 L473.3,-28.1 L477.1,-29.4 L480.9,-30.7 L484.7,-32 L488.5,-33.3 L492.3,-34.7 L496.1,-36.1 L499.9,-37.5 L503.6,-38.9 L507.4,-40.4 L511.1,-41.8 L514.9,-43.3 L518.6,-44.8 L522.4,-46.3"/>
<path d="M-68.4,-145 L-65.1,-143.2 L-61.8,-141.4 L-58.5,-139.6 L-55.2,-137.9 L-51.8,-136.2 L-48.5,-134.5 L-45.1,-132.8 L-41.8,-131.1 L-38.4,-129.5 L-35,-127.8 L-31.7,-126.2 L-28.3,-124.6 L-24.9,-123.1 L-21.5,-121.5 L-18.1,-120 L-14.7,-118.5 L-11.2,-117 L-7.8,-115.5 L-4.4,-114.1 L-0.9,-112.6 L2.5,-111.2 L6,-109.8 L9.4,-108.4 L12.9,-107.1 L16.3,-105.7 L19.8,-104.4 L23.3,-103.1 L26.8,-101.8 L30.3,-100.6 L33.8,-99.3 L37.3,-98.1 L40.8,-96.9 L44.3,-95.7 L47.8,-94.6 L51.3,-93.4 L54.9,-92.3 L58.4,-91.2 L61.9,-90.1 L65.5,-89.1 L69,-88.1 L72.6,-87 L76.1,-86 L79.7,-85.1 L83.3,-84.1 L86.8,-83.2 L90.4,-82.2 L94,-81.3 L97.6,-80.5 L101.1,-79.6 L104.7,-78.8 L108.3,-78 L111.9,-77.2 L115.5,-76.4 L119.1,-75.6 L122.7,-74.9 L126.3,-74.2 L129.9,-73.5 L133.5,-72.8 L137.2,-72.2 L140.8,-71.5 L144.4,-70.9 L148,-70.3 L151.7,-69.7 L155.3,-69.2 L158.9,-68.7 L162.6,-68.2 L166.2,-67.7 L169.8,-67.2 L173.5,-66.8 L177.1,-66.3 L180.8,-65.9 L184.4,-65.5 L188,-65.2 L191.7,-64.8 L195.3,-64.5 L199,-64.2 L202.7,-63.9 L206.3,-63.7 L210,-63.4 L213.6,-63.2 L217.3,-63 L220.9,-62.8 L224.6,-62.7 L228.3,-62.5 L231.9,-62.4 L235.6,-62.3 L239.2,-62.2 L242.9,-62.2 L246.6,-62.1 L250.2,-62.1 L253.9,-62.1 L257.5,-62.2 L261.2,-62.2 L264.9,-62.3 L268.5,-62.4 L272.2,-62.5 L275.9,-62.6 L279.5,-62.8 L283.2,-63 L286.8,-63.2 L290.5,-63.4 L294.1,-63.6 L297.8,-63.9 L301.4,-64.1 L305.1,-64.4 L308.8,-64.8 L312.4,-65.1 L316,-65.5 L319.7,-65.8 L323.3,-66.2 L327,-66.7 L330.6,-67.1 L334.3,-67.6 L337.9,-68.1 L341.5,-68.6 L345.2,-69.1 L348.8,-69.6 L352.4,-70.2 L356.1,-70.8 L359.7,-71.4 L363.3,-72 L366.9,-72.7 L370.5,-73.3 L374.1,-74 L377.7,-74.7 L381.3,-75.5 L385,-76.2 L388.6,-77 L392.1,-77.8 L395.7,-78.6 L399.3,-79.4 L402.9,-80.3 L406.5,-81.2 L410.1,-82.1 L413.6,-83 L417.2,-83.9 L420.8,-84.9 L424.3,-85.8 L427.9,-86.8 L431.4,-87.8 L435,-88.9 L438.5,-89.9 L442.1,-91 L445.6,-92.1 L449.1,-93.2 L452.7,-94.4 L456.2,-95.5 L459.7,-96.7 L463.2,-97.9 L466.7,-99.1 L470.2,-100.3 L473.7,-101.6 L477.2,-102.9 L480.7,-104.2 L484.1,-105.5 L487.6,-106.8 L491.1,-108.2 L494.5,-109.5 L498,-110.9 L501.4,-112.3"/>
</g>
<g fill="none" stroke="#d0d8d9" stroke-width="0.85" stroke-linejoin="round">
<path d="M33.1,1.2 L35.2,12.8 L37.2,22.3 L39.3,30.5 L41.3,38.6"/>
<path d="M41.3,38.6 L44,37.3 L46.7,34.8 L49.2,34.8 L51.5,36.6 L52.2,40 L52.9,42.7 L56.3,44.1 L59.7,45.2 L63.1,44.1 L67.1,43.4 L70.5,44.8 L73.3,48.2 L74.6,53.6 L75.3,57.7 L78.7,60.4 L80.7,63.1 L81.4,67.2 L83.5,69.2 L87.5,70.6 L91.6,69.9 L94.3,68.8 L95,71.3 L95.7,75.4 L98.4,78.1 L103.9,77.4 L107.9,76.7 L113.4,75.4 L117.5,74 L120.2,71.3 L122.9,69.9 L128.3,67.2 L132.4,65.8 L136.5,64.8"/>
<path d="M136.5,64.8 L140.6,62.4 L144,61.8 L146,63.1 L149.4,62.8 L150.1,65.8 L154.9,66.5 L159.6,67.9 L160.7,71.3 L161,74.7 L163.7,76.7 L169.1,77.4 L174.6,78.1 L181.4,80.1 L184.8,82.2 L188.2,80.8 L190.9,78.1 L192.3,72.6 L190.9,67.2 L190.2,63.1 L192.9,57.7 L196.3,53.6 L199.7,48.8 L203.1,50.9 L205.9,52.9 L209.9,55 L216.7,57.7 L222.2,59.7 L225.6,61.8 L226.9,67.2 L229,75.4 L234.4,78.1 L239.9,79.4 L243.9,78.8 L248,77.4 L252.1,76 L256.2,76 L260.3,77 L264.3,78.1 L267.1,79.4 L272.5,80.8"/>
<path d="M272.5,80.8 L275.2,84.9 L280.7,89 L286.1,91 L292.9,92.4 L299.7,93 L306.5,90.3 L313.3,87.6 L318.7,84.9 L321.5,80.8 L324.2,77.4 L328.3,74.7 L332.3,74 L336.4,76.7 L340.5,77.4 L345.9,76 L350,77.4"/>
<path d="M-0.9,151.2 L5.9,155.9 L11.4,160 L14.1,162.7"/>
</g>
<g fill="none" stroke="#525a5a" stroke-width="0.9" stroke-linejoin="round">
<path d="M46.1,119.2 L49.5,112.1 L52.9,105.3 L56.3,99.2 L60.3,102.6 L64.4,104.6 L68.5,106 L71.2,106.6 L72.6,108 L76,107.3 L78.7,106 L79.1,102.6 L79.7,94.4 L81.4,89 L84.8,87.6 L88.9,86.9 L91.6,84.2 L93,80.1 L95.7,78.8 L98.4,79.4 L101.4,80.5 L101.8,84.2 L103.9,89 L107.3,93.7 L110.7,97.8 L114.7,99.8 L117.5,101.9 L120.2,105.3 L121.5,110 L122.9,114.8 L124.3,119.2"/>
<path d="M350,77.4 L354.1,79.4 L359.5,80.8 L362.3,79.4 L366.3,75.4 L370.4,72 L371.8,68.6 L370.4,66.5 L371.8,60.4 L373.1,53.6 L375.2,46.8 L377.9,41.4 L379.9,37.3 L379.3,33.2 L375.9,31.8 L373.8,31.2 L375.9,26.4 L378.6,22.3 L381.3,21 L385.4,18.9 L390.8,16.2 L399,13.5 L403.1,13.5 L407.1,14.8 L409.9,15.8"/>
<path d="M385.4,19.6 L384.7,25.7 L382.7,30.5 L386.7,31.8 L392.2,31.8 L394.9,34.6 L396.3,40 L399,45.4 L403.1,46.8 L409.9,45.4"/>
<path d="M350,77.4 L348.7,83.5 L347.3,91.7 L344.6,99.8 L343.2,104.6 L345.9,109.4 L351.4,108 L356.8,108 L359.5,106.6 L362.3,103.9 L366.3,102.6 L369.1,102.6 L373.1,105.3 L377.2,108 L381.3,112.1 L384,117.5 L385.4,119.2"/>
<path d="M409.9,98.5 L407.1,99.8 L404.4,102.6 L405.1,105.3 L409.9,108"/>
<path d="M45.4,119.2 L44.7,121.9 L46.1,126 L44,127.4 L41.3,125.3 L39.9,123.3 L35.9,124 L30.4,124 L25,124.6 L21.6,125.3 L22.3,127.4 L25,129.4 L24.3,132.8 L23.6,139.6 L24.3,146.4 L23.6,151.8 L20.9,154.6 L18.2,155.9 L16.8,158.6 L16.1,162.7 L14.8,165.4 L14.1,168.2 L8.7,169.5 L4.6,170.2 L1.9,170.9 L-0.9,171.2"/>
<path d="M124.3,119.2 L124.3,124.6 L122.9,128.7 L123.6,132.8 L120.2,136.9 L119.5,141 L121.5,144.4 L125.6,145.7 L131.1,147.8 L136.5,149.8"/>
<path d="M131.7,218.5 L131.1,222.6 L129.7,228 L127,232.1 L124.3,236.2 L122.9,239.2"/>
<path d="M136.5,149.8 L141.9,150.5 L146,153.2 L150.1,157.3 L154.2,161.4 L156.9,163.4 L161,164.1 L160.3,166.8 L162.3,170.9 L163.7,176.3 L165.1,180.4 L167.8,184.5 L168.5,188.6"/>
<path d="M168.5,188.6 L175.9,188.6 L181.4,189.9 L188.2,192 L195,193.3 L201.8,192.6 L208.6,192.6 L214,194 L219.5,196.7 L222.2,199.4 L226.3,200.8 L231.7,203.5 L237.1,206.2 L243.9,205.6 L246,209 L249.4,209.6 L253.5,206.9 L258.9,203.5 L264.3,200.8 L269.8,198.1 L272.5,197.4"/>
<path d="M168.5,188.6 L165.1,189.9 L164.4,192.6 L165.1,195.4 L164.4,199.4 L161.7,200.8 L158.3,202.2 L156.2,204.9 L154.9,202.2 L152.8,202.8 L147.4,206.2 L143.3,209.6 L141.3,213 L139.9,216.4 L139.2,218.5"/>
<path d="M175.9,188.6 L177.3,194 L179.3,200.8 L180.7,205.6 L179.3,209 L180,213 L182.7,215.8 L184.8,218.5 L184.8,223.2 L186.8,221.2 L188.9,221.9 L190.9,220.5 L192.3,221.2 L193.6,219.8 L196.3,219.2 L199.1,218.5 L201.8,219.8 L203.1,222.6 L202.5,226.6 L203.1,228 L200.4,232.1 L196.3,234.1 L199.1,236.2 L203.1,239.2"/>
<path d="M-0.9,270.2 L3.2,272.5 L5.9,274.6 L10,274.6 L12.7,271.8 L16.8,269.8 L20.9,271.8 L22.3,275.9 L26.3,278.6 L33.1,279.3 L37.2,277.3 L42.7,275.9 L46.7,278 L52.2,277.3 L54.9,273.9 L57.6,272.1 L61.7,271.8 L68.5,271.8 L73.9,272.5 L80.7,272.5 L84.8,275.9 L90.3,279.3 L93,280.7"/>
<path d="M93,280.7 L94.3,279.3 L97.1,280 L101.1,282 L105.2,283.4 L105.9,278.6 L103.9,274.6 L105.2,271.2 L109.3,269.1 L110,266.4 L108.6,262.3 L105.2,258.2 L103.9,254.2 L103.9,248.7 L101.1,247.4 L101.1,245.3 L106.6,244 L113.4,242.6 L120.2,241.2 L125.6,239.9 L131.1,239.2 L132.4,241.9 L133.8,243.3 L136.5,243.3"/>
<path d="M93,280.7 L88.9,282.7 L90.9,284.8 L90.3,289.5 L88.2,291.6 L87.5,295 L88.9,297.7 L90.3,299 L89.6,303.1 L88.9,308.6 L87.5,312 L88.9,315.4 L90.3,319.4 L90.9,323.5 L94.3,326.2 L98.4,328.3 L102.5,329 L106.6,331 L109.3,334.4 L112,336.4 L117.5,337.1 L121.5,339.2 L125.6,341.2 L131.1,343.2 L133.8,341.9 L136.5,341.2"/>
<path d="M136.5,243.3 L139.2,244.6 L141.9,246 L144,250.1 L145.3,252.8 L148.7,252.8 L152.8,254.2 L156.9,255.5 L161,258.2 L163.7,256.9 L166.4,254.2 L168.5,252.1 L169.1,247.4 L170.5,244 L173.2,243.3 L177.3,246.7 L181.4,250.1 L184.1,247.4 L187.5,246.7 L190.9,250.1 L195,254.8 L199.1,256.9 L200.4,259.6 L201.8,257.6 L205.9,261 L209.9,264.4 L214,267.1 L218.1,269.1 L222.2,274.6 L225.6,279.3 L226.3,284.1 L227.6,288.2 L229.7,292.2 L226.9,296.3 L225.6,300.4 L223.5,304.5 L221.5,308.6 L218.8,312.6 L218.1,316.7 L220.1,320.8"/>
<path d="M220.1,320.8 L218.1,323.5 L214,323.5 L209.9,320.8 L205.9,320.8 L205.2,323.5 L207.2,327.6 L210.6,331.7 L214,333.7 L215.4,337.1 L212.7,339.2 L210.6,337.1 L208.6,339.8 L207.2,343.9 L204.5,346.6 L201.8,346.6 L199.1,344.6 L196.3,342.6 L195,340.5 L193.6,344.6 L190.9,343.9 L186.8,341.2 L184.1,337.1 L182.7,333 L181.4,327.6 L179.3,322.8 L175.9,320.8 L173.2,320.8 L170.5,323.5 L169.1,327.6 L169.8,333 L168.5,338.5 L167.8,343.9 L165.7,348 L163.7,350.7 L161,353.4 L159.6,356.2 L156.9,356.2 L154.2,355.5 L150.1,356.8 L147.4,356.2 L144.7,352.1 L143.3,348 L140.6,345.3 L136.5,341.2"/>
<path d="M159.6,356.2 L163.7,350.7 L167.8,345.3 L171.9,346.6 L175.9,349.4 L177.3,353.4 L178,357.5"/>
<path d="M220.1,320.8 L223.5,324.9 L226.3,322.8 L229,324.2 L231.7,329 L235.8,331.7 L241.2,334.4 L242.6,339.8 L243.9,345.3 L248,348 L252.1,348 L254.8,345.3 L257.5,343.9 L260.3,343.9 L263,346.6 L267.1,347.3 L272.5,346.6"/>
<path d="M203.1,239.2 L205.9,241.9 L208.6,246 L211.3,250.1 L214,252.1 L218.1,253.5 L219.5,248.7 L223.5,246.7 L229,247.4 L231.7,246 L237.1,243.3 L240.5,243.3 L241.9,247.4 L241.2,251.4 L238.5,254.2 L234.4,259.6 L233.1,263.7 L235.8,267.8 L239.9,271.8 L243.9,273.2 L248,275.9 L250.7,280 L253.5,285.4 L253.5,290.9 L254.8,296.3 L257.5,301.8 L260.3,304.5 L263,305.8 L264.3,307.2"/>
<path d="M243.9,273.2 L248,271.8 L253.5,270.5 L257.5,267.8 L258.2,262.3 L258.9,255.5 L260.3,251.4 L262.3,246.7 L265,245.3 L267.1,246 L268.4,250.1 L267.1,255.5 L265.7,259.6 L268.4,262.3 L272.5,263.7"/>
<path d="M272.5,278.6 L267.1,278.6 L265.7,282.7 L265,288.2 L267.1,292.2 L268.4,296.3 L267.7,300.4 L265,303.1 L264.3,307.2"/>
<path d="M272.5,310.6 L267.1,310.6 L265,315.4 L267.1,320.8 L265.7,326.2 L265,331.7 L261.6,334.4 L258.9,337.1 L258.9,341.2 L256.2,343.9"/>
<path d="M272.5,197.4 L277.9,196.7 L286.1,196 L291.5,195.4 L297,192.6 L301.1,189.9 L303.8,185.8 L307.9,180.4 L313.3,176.3 L315.3,173.6 L314.7,170.9 L311.9,168.2 L309.9,164.1 L310.6,158.6 L313.3,154.6 L316,153.9 L320.1,155.9 L324.2,157.3 L329.6,157.3 L332.3,155.2 L335.1,151.2 L337.8,147.1 L343.2,146.4 L347.3,144.4 L351.4,139.6 L352.7,134.2 L355.5,130.1 L359.5,128.7 L362.3,126 L366.3,124 L370.4,121.9 L375.9,121.2 L379.9,121.2 L383.3,119.9 L384,119.2"/>
<path d="M401,128 L403.1,127.4 L405.8,130.1 L406.5,134.2 L407.8,139.6 L409.9,148.4"/>
<path d="M321.5,227.6 L325,228 L327.6,225.8 L330.2,225.4 L332.8,225 L335.4,223.2 L337.6,221.9 L338.9,220.2 L337.6,218.4 L336.3,215 L335.9,211.5 L336.3,208 L337.2,206.3 L338.5,202.8 L338.9,199.3 L340.6,197.1 L342.4,196.3 L344.6,196.7 L345,200.2 L345.4,203.7 L347.6,204.1 L350.2,201.9 L352,200.2 L354.6,198.4 L356.3,199.3 L358,197.6 L359.8,196.7 L362.4,196.3 L364.1,194.1 L363.3,191.5 L364.1,189.3 L366.7,188 L368.5,186.3 L371.1,185.4 L372.8,187.1 L374.6,190.6 L376.3,193.2 L377.2,195.8 L376.3,197.6 L378.1,201 L379.4,203.7 L382.4,203.7 L386.8,203.7 L388.5,201 L388.5,197.6 L387.6,195 L386.8,191.9 L385.9,189.3 L387.6,186.7 L390.2,187.6 L392,188.9 L392.8,190.6 L394.6,195 L396.3,192.3 L398.1,189.7 L399.8,188 L402.4,185.8 L405,182.8 L407.6,181 L409.4,180.6"/>
<path d="M386.8,203.7 L385.9,206.3 L385,209.7 L385.9,212.4 L388.5,213.7 L391.1,215 L392.8,217.6 L394.6,220.2 L395.9,221.9"/>
<path d="M395.9,221.9 L398.1,219.3 L400.7,217.6 L402.4,215 L404.2,210.6 L405.9,207.1 L409.4,205.4"/>
<path d="M395.9,221.9 L393.7,223.7 L392.4,227.1 L392,230.6 L391.1,233.2 L389.4,235 L387.6,236.7 L385.9,239.3 L384.1,240.2 L382.4,238.5 L380.7,236.7 L378.9,235.8 L377.2,234.1 L375.4,232.4 L374.6,229.8 L373.7,227.1 L374.6,226.3 L376.3,225.4 L375.4,224.5 L373.7,222.8 L371.5,222.8"/>
<path d="M338.9,220.2 L338.5,221.9 L339.8,223.7 L342.4,224.5 L342.8,225.4 L341.5,226.3 L338.9,228.9 L338,230.6 L339.8,232.4 L342.4,233.2 L343.3,235.8 L344.6,237.6 L344.1,240.2 L344.6,243.7"/>
<path d="M362.8,210.6 L365,212.4 L366.7,214.1 L368.9,215.4 L372,215.8 L370.2,217.6 L369.8,219.3 L370.7,221.1 L371.5,222.8 L370.2,224.5 L368.5,225.4 L366.7,225.8 L365.9,226.7 L366.7,228.9 L367.6,231.5 L365.9,232.4 L364.1,233.2 L362.4,234.1 L359.8,234.5 L357.2,235.4 L355.4,234.1 L353.7,232.4 L352.8,229.8 L353.7,227.1 L355.4,225.8 L357.2,224.5 L356.3,221.9 L355.4,220.2 L357.2,218.4 L359.3,217.6 L361.1,215.8 L362,213.2 L362.8,210.6"/>
<path d="M371.5,222.8 L370.2,224.5 L369.8,228 L369.4,230.6 L368.5,232.4 L366.7,233.2"/>
<path d="M365.9,232.4 L366.7,234.1 L367.6,236.7 L368.5,239.3 L368,243.7"/>
<path d="M378.1,237.6 L377.2,240.2 L377.2,243.7"/>
<path d="M320.4,233.2 L318.9,235.4 L317.4,237.3 L315.9,238.1 L313.7,238.4 L311.4,239.9 L309.2,240.7 L306.9,242.2 L304.7,242.6 L302.4,241.4 L300.9,242.2 L298.7,245.2 L297.2,248.9 L295,251.9 L293.5,254.2 L291.2,257.2 L290.1,260.2 L290.5,263.1 L289.3,266.1 L288.2,268.4 L286,269.9 L283,269.9 L281.5,270.6 L280,269.1 L278.5,267.6 L276.2,266.9 L274,264.6 L271.8,263.1"/>
<path d="M276.2,266.9 L274.7,269.1 L274,272.1 L273.2,275.1 L271.8,278.1"/>
<path d="M271.8,278.1 L274,280.4 L277,282.6 L280,284.9 L283,286.4 L286,287.9 L288.2,290.1 L288.2,294.6 L286.7,298.3 L286.4,299.8"/>
<path d="M310.7,240.7 L311.4,242.9 L310.7,245.9 L309.9,249.7 L309.2,253.4 L308.4,256.4 L306.9,258.7 L305.8,260.9 L306.2,264.6 L307.7,266.9 L309.2,270.6 L308.4,275.1 L306.9,277.4 L305.8,279.6 L306.2,284.1 L306.9,288.6 L307.7,293.1 L307.7,299.8"/>
<path d="M342.9,242.9 L339.9,243.7 L337.6,245.9 L336.1,250.4 L335.8,254.9 L336.9,257.9 L339.1,260.2 L340.6,261.6 L341.4,264.6 L341.8,268.4 L341.4,272.1 L341,275.1 L340.8,281.1 L340.6,285.6 L339.9,291.6 L339.1,299.8"/>
<path d="M343,233.2 L344.5,236.2 L343.7,239.2 L343,242.2 L340.7,243.7 L337.8,244.4"/>
<path d="M353.5,233.2 L355,234.7 L357.2,235.4 L359.5,234.7 L362.5,235.1 L364,233.2"/>
<path d="M366.9,233.2 L367.7,236.9 L368.4,239.9 L366.9,242.9 L368.4,245.2 L370.7,246.7 L373.7,247.4 L375.9,246.7 L376.7,244.4 L377.4,242.2 L378.2,239.9 L377.4,236.9 L378.2,234.7 L377.4,233.2"/>
<path d="M377.4,233.2 L377.8,236.2 L378.9,237.7 L377.4,239.9 L377.1,242.9 L376.7,245.9 L377.4,248.2 L379.3,251.2"/>
<path d="M378.9,237.7 L381.9,238.4 L384.2,240.3 L386.4,237.7 L389.4,236.2 L390.9,233.9 L391.7,233.2"/>
<path d="M379.3,251.2 L378.2,254.2 L376.7,256.4 L375.2,257.9 L372.2,258.7 L369.9,259.4 L368.4,261.6 L366.9,263.1 L365.5,265.4 L364,266.9 L362.5,268.4 L361.7,269.9 L361,272.1 L360.2,275.1"/>
<path d="M379.3,251.2 L381.9,252.7 L384.9,253.4 L387.9,252.7 L390.2,251.9 L391.7,253.4 L393.2,255.7 L394.7,257.2 L392.4,258.7 L391.7,261.6 L392.4,264.6 L395.4,266.1 L398.4,266.9 L400.6,265.4 L402.1,263.1 L403.6,260.2 L405.1,257.2 L407.4,254.9 L409.2,254.2"/>
<path d="M409.2,278.1 L406.6,281.1 L405.1,284.1 L403.6,287.1 L402.1,291.6 L400.6,295.3 L398.4,297.6 L396.9,299.8"/>
<path d="M338.5,285.6 L342.2,286.4 L346,287.9 L349.7,288.6 L353.5,287.1 L356.5,287.9 L358,288.6 L360.2,290.1 L363.2,288.6 L365.1,287.9"/>
<path d="M357.2,291.6 L361,290.1 L364.7,287.9"/>
<path d="M358,288.6 L357.2,295.3 L356.5,299.8"/>
<path d="M340,285.6 L339.2,290.1 L339.2,299.8"/>
<path d="M288.6,293.2 L287.5,296.2 L286.7,299.2 L287.5,302.2 L287.8,305.9 L286,306.7 L283,306.7 L280,307.4 L278.5,306.7 L277.7,308.2 L279.2,309.7 L280,311.2 L277,311.9 L274,312.7 L271.8,313"/>
<path d="M306.9,293.2 L307.7,296.2 L308.8,300.7 L307.7,304.4 L306.6,308.2 L305.4,311.2 L305.4,314.2 L306.9,316.4 L308.4,320.2 L309.9,323.9 L310.7,326.9 L312.2,329.1 L314.4,332.1 L315.2,335.1 L314.4,336.6"/>
<path d="M306.9,316.4 L309.9,315.7 L312.9,314.2 L315.9,312.7 L318.9,311.2 L321.2,308.9 L323.4,307.4 L324.2,305.2 L327.2,304.8 L330.9,304.4 L333.9,302.9 L336.9,300.7 L339.1,298.4 L340.3,295.4 L340.3,293.2"/>
<path d="M314.4,336.6 L312.2,338.5 L309.9,338.1 L308.4,337.4 L305.4,338.1 L302.4,337.7 L298.7,337.7 L298,338.9 L300.9,340.4 L301.7,342.6 L303.9,343.4 L305.4,344.9 L305.4,347.1 L302.4,347.5 L300.2,347.9 L299.1,350.8 L299.5,354.6 L299.8,359.1"/>
<path d="M314.4,336.6 L316.7,338.9 L318.2,341.9 L320.4,344.9 L323.4,346.4 L326.4,347.9 L329.4,349 L332.4,348.6 L335.4,347.9 L338.4,347.5 L340.6,348.2 L343.2,349.4"/>
<path d="M271.8,347.9 L274.7,350.1 L277.7,351.6 L280,353.1 L282.2,354.6 L284.5,353.8 L287.5,353.5 L289.7,355.3 L292,357.6"/>
<path d="M287.5,353.8 L286.7,359.1"/>
<path d="M360.2,293.2 L358,295.4 L357.2,297.7 L355,299.9 L354.2,302.2 L353.5,305.2 L356.5,306.7 L358.7,308.9 L361,311.2 L363.2,311.5 L366.2,310.8 L368.4,310.8 L369.9,310.4 L369.9,307.4 L370.7,305.9 L372.9,304.4 L374.4,304.1 L375.9,305.2 L377.4,308.2 L378.9,311.2 L380.4,308.9 L381.9,309.7 L383.4,308.2 L385.7,306.7 L387.9,306.7 L389.4,308.2 L390.2,310.4 L391.7,308.9 L392.4,305.9 L394.7,304.4 L395.4,301.4 L396.9,299.2 L398.4,298.1 L400.6,296.9 L401.4,294.7 L402.1,293.2"/>
<path d="M398.4,298.1 L399.1,300.7 L401.4,302.9 L403.6,304.4 L405.9,305.9 L409.2,306.7"/>
<path d="M369.9,310.4 L372.2,311.9 L374.4,312.7 L376.7,314.2 L378.9,316.4 L381.9,317.2 L384.2,317.2 L385.7,319.4 L386.4,320.9 L388.7,320.2 L390.2,320.9 L390.2,323.1 L389.4,326.1 L389.4,328.4 L390.9,329.1 L392.4,330.6 L393.2,332.9 L394.7,335.1 L396.9,335.9 L398.4,334.4 L399.9,332.1 L401.4,331.4 L402.9,332.9 L403.6,335.1 L402.9,338.1 L400.6,337.4 L398.4,336.6 L396.9,335.9"/>
<path d="M396.9,335.9 L397.6,338.1 L398.4,341.1 L396.9,344.1 L396.1,347.1 L397.6,349.4 L399.9,350.8 L402.1,352.3 L401.4,355.3 L401,359.1"/>
<path d="M369.9,310.4 L368.4,311.9 L369.9,313.4 L372.2,314.9 L372.9,317.2 L373.7,319.4 L372.2,321.6 L369.9,323.5 L368.4,323.1 L366.9,321.6 L365.5,319.4 L363.2,319 L362.5,321.6 L363.2,324.6 L362.5,326.1 L361,327.6 L361,331.4 L360.2,333.6 L357.2,334.4 L356.8,336.6 L359.5,338.1 L360.2,340.4 L361.7,342.6 L364.7,344.9 L366.9,343.4 L368.4,341.9 L368.8,345.6 L369.2,350.1 L368.8,353.1 L366.2,354.6 L364.7,357.6"/>
<path d="M337.8,347.1 L341.5,348.6 L343,348.6 L344.5,347.1 L345.2,349.4 L346,352.3 L347.5,354.6 L349.7,355.3 L352,355.7 L354.2,356.1 L355,357.6"/>
<path d="M404.4,357.6 L406.6,356.1 L409.2,355.7"/>
<path d="M313.3,239.2 L317.4,234.8 L319.4,231.8 L321.2,228"/>
<path d="M219.7,326.6 L221.5,329.6 L222.7,333.2 L221.5,336.8 L217.9,339.2 L214.9,340.4"/>
<path d="M142.2,211.8 L139.5,216.6 L135.4,217.3 L131.4,217.3 L130,220.7"/>
</g>
</g>
<clipPath id="clipa"><rect x="68.5" y="47.5" width="403" height="357"/></clipPath>
<clipPath id="clipb"><rect x="579.5" y="46.5" width="408" height="358"/></clipPath>
<clipPath id="clipc"><rect x="68.5" y="481.5" width="409" height="357"/></clipPath>
<clipPath id="clipd"><rect x="578.5" y="483.5" width="409" height="355"/></clipPath>
</defs>
<g clip-path="url(#clipa)"><use href="#base" transform="translate(65,47.2)"/></g>
<path d="M68.5,404.5V47.5" stroke="#3c4444" stroke-width="1" fill="none"/>
<path d="M68,47.5H472" stroke="#3c4444" stroke-width="1" fill="none"/>
<path d="M471.5,47V405" stroke="#3c4444" stroke-width="1" fill="none"/>
<path d="M68,404.5H472" stroke="#3c4444" stroke-width="1" fill="none"/>
<g clip-path="url(#clipb)"><use href="#base" transform="translate(578.5,46.8)"/></g>
<path d="M579.5,404.5V46.5" stroke="#6c7173" stroke-width="1" fill="none"/>
<path d="M579,46.5H988" stroke="#6c7173" stroke-width="1" fill="none"/>
<path d="M987.5,46V405" stroke="#5a6062" stroke-width="1" fill="none"/>
<path d="M579,404.5H988" stroke="#3c4444" stroke-width="1" fill="none"/>
<g clip-path="url(#clipc)"><use href="#base" transform="translate(68,481)"/></g>
<path d="M68.5,838.5V481.5" stroke="#3c4444" stroke-width="1" fill="none"/>
<path d="M68,481.5H478" stroke="#3c4444" stroke-width="1" fill="none"/>
<path d="M477.5,481V839" stroke="#3c4444" stroke-width="1" fill="none"/>
<path d="M68,838.5H478" stroke="#3c4444" stroke-width="1" fill="none"/>
<g clip-path="url(#clipd)"><use href="#base" transform="translate(578,483.4) scale(1,0.995)"/></g>
<path d="M578.5,838.5V483.5" stroke="#6c7173" stroke-width="1" fill="none"/>
<path d="M578,483.5H988" stroke="#6c7173" stroke-width="1" fill="none"/>
<path d="M987.5,483V839" stroke="#3c4444" stroke-width="1" fill="none"/>
<path d="M578,838.5H988" stroke="#3c4444" stroke-width="1" fill="none"/>
<path d="M65,87.5H68" stroke="#333" stroke-width="1"/>
<text x="47.7" y="93.7" font-size="20" text-anchor="end">50°</text>
<text transform="translate(49.3,93.7) scale(0.87,1)" font-size="20">N</text>
<path d="M65,165.9H68" stroke="#333" stroke-width="1"/>
<text x="47.7" y="172.9" font-size="20" text-anchor="end">45°</text>
<text transform="translate(49.3,172.9) scale(0.87,1)" font-size="20">N</text>
<path d="M65,245.3H68" stroke="#333" stroke-width="1"/>
<text x="47.7" y="251.5" font-size="20" text-anchor="end">40°</text>
<text transform="translate(49.3,251.5) scale(0.87,1)" font-size="20">N</text>
<path d="M65,324.3H68" stroke="#333" stroke-width="1"/>
<text x="47.7" y="330.5" font-size="20" text-anchor="end">35°</text>
<text transform="translate(49.3,330.5) scale(0.87,1)" font-size="20">N</text>
<path d="M65,403.5H68" stroke="#333" stroke-width="1"/>
<text x="47.7" y="409.7" font-size="20" text-anchor="end">30°</text>
<text transform="translate(49.3,409.7) scale(0.87,1)" font-size="20">N</text>
<path d="M92.2,404V408" stroke="#333" stroke-width="1"/>
<text x="76.9" y="429.8" font-size="20">85°</text>
<text transform="translate(106.9,429.8) scale(0.89,1)" font-size="20">E</text>
<path d="M149.3,404V408" stroke="#333" stroke-width="1"/>
<text x="133.5" y="429.8" font-size="20">90°</text>
<text transform="translate(163.5,429.8) scale(0.89,1)" font-size="20">E</text>
<path d="M204.8,404V408" stroke="#333" stroke-width="1"/>
<text x="189.2" y="429.8" font-size="20">95°</text>
<text transform="translate(219.2,429.8) scale(0.89,1)" font-size="20">E</text>
<path d="M260.5,404V408" stroke="#333" stroke-width="1"/>
<text x="239.5" y="429.8" font-size="20">100°</text>
<text transform="translate(279.5,429.8) scale(0.89,1)" font-size="20">E</text>
<path d="M315.1,404V408" stroke="#333" stroke-width="1"/>
<text x="298.9" y="429.8" font-size="20">105°</text>
<text transform="translate(338.9,429.8) scale(0.89,1)" font-size="20">E</text>
<path d="M369.9,404V408" stroke="#333" stroke-width="1"/>
<text x="357.1" y="429.8" font-size="20">110°</text>
<text transform="translate(397.1,429.8) scale(0.89,1)" font-size="20">E</text>
<path d="M425.6,404V408" stroke="#333" stroke-width="1"/>
<text x="415.3" y="429.8" font-size="20">115°</text>
<text transform="translate(455.3,429.8) scale(0.89,1)" font-size="20">E</text>
<path d="M576,85.4H579" stroke="#333" stroke-width="1"/>
<text x="562.4" y="93.8" font-size="20" text-anchor="end">50°</text>
<text transform="translate(564,93.8) scale(0.87,1)" font-size="20">N</text>
<path d="M576,164.5H579" stroke="#333" stroke-width="1"/>
<text x="562.4" y="172.8" font-size="20" text-anchor="end">45°</text>
<text transform="translate(564,172.8) scale(0.87,1)" font-size="20">N</text>
<path d="M576,244.3H579" stroke="#333" stroke-width="1"/>
<text x="562.4" y="251.1" font-size="20" text-anchor="end">40°</text>
<text transform="translate(564,251.1) scale(0.87,1)" font-size="20">N</text>
<path d="M576,323.5H579" stroke="#333" stroke-width="1"/>
<text x="562.4" y="330.3" font-size="20" text-anchor="end">35°</text>
<text transform="translate(564,330.3) scale(0.87,1)" font-size="20">N</text>
<path d="M576,403.1H579" stroke="#333" stroke-width="1"/>
<text x="562.4" y="409.9" font-size="20" text-anchor="end">30°</text>
<text transform="translate(564,409.9) scale(0.87,1)" font-size="20">N</text>
<path d="M606.3,404V408" stroke="#333" stroke-width="1"/>
<text x="591.2" y="428.9" font-size="20">85°</text>
<text transform="translate(621.2,428.9) scale(0.89,1)" font-size="20">E</text>
<path d="M663.5,404V408" stroke="#333" stroke-width="1"/>
<text x="647.8" y="428.9" font-size="20">90°</text>
<text transform="translate(677.8,428.9) scale(0.89,1)" font-size="20">E</text>
<path d="M718.5,404V408" stroke="#333" stroke-width="1"/>
<text x="703.5" y="428.9" font-size="20">95°</text>
<text transform="translate(733.5,428.9) scale(0.89,1)" font-size="20">E</text>
<path d="M773.5,404V408" stroke="#333" stroke-width="1"/>
<text x="753.8" y="428.9" font-size="20">100°</text>
<text transform="translate(793.8,428.9) scale(0.89,1)" font-size="20">E</text>
<path d="M828.3,404V408" stroke="#333" stroke-width="1"/>
<text x="813.2" y="428.9" font-size="20">105°</text>
<text transform="translate(853.2,428.9) scale(0.89,1)" font-size="20">E</text>
<path d="M883.3,404V408" stroke="#333" stroke-width="1"/>
<text x="871.4" y="428.9" font-size="20">110°</text>
<text transform="translate(911.4,428.9) scale(0.89,1)" font-size="20">E</text>
<path d="M938.3,404V408" stroke="#333" stroke-width="1"/>
<text x="929.6" y="428.9" font-size="20">115°</text>
<text transform="translate(969.6,428.9) scale(0.89,1)" font-size="20">E</text>
<path d="M65,519.9H68" stroke="#333" stroke-width="1"/>
<text x="50.1" y="526.9" font-size="20" text-anchor="end">50°</text>
<text transform="translate(51.7,526.9) scale(0.87,1)" font-size="20">N</text>
<path d="M65,598.7H68" stroke="#333" stroke-width="1"/>
<text x="50.1" y="605.7" font-size="20" text-anchor="end">45°</text>
<text transform="translate(51.7,605.7) scale(0.87,1)" font-size="20">N</text>
<path d="M65,678.7H68" stroke="#333" stroke-width="1"/>
<text x="50.1" y="685.7" font-size="20" text-anchor="end">40°</text>
<text transform="translate(51.7,685.7) scale(0.87,1)" font-size="20">N</text>
<path d="M65,757.9H68" stroke="#333" stroke-width="1"/>
<text x="50.1" y="764.9" font-size="20" text-anchor="end">35°</text>
<text transform="translate(51.7,764.9) scale(0.87,1)" font-size="20">N</text>
<path d="M65,836.8H68" stroke="#333" stroke-width="1"/>
<text x="50.1" y="843.8" font-size="20" text-anchor="end">30°</text>
<text transform="translate(51.7,843.8) scale(0.87,1)" font-size="20">N</text>
<path d="M95.6,838V842" stroke="#333" stroke-width="1"/>
<text x="79.6" y="862.8" font-size="20">85°</text>
<text transform="translate(109.6,862.8) scale(0.89,1)" font-size="20">E</text>
<path d="M152.4,838V842" stroke="#333" stroke-width="1"/>
<text x="136.2" y="862.8" font-size="20">90°</text>
<text transform="translate(166.2,862.8) scale(0.89,1)" font-size="20">E</text>
<path d="M207.9,838V842" stroke="#333" stroke-width="1"/>
<text x="191.9" y="862.8" font-size="20">95°</text>
<text transform="translate(221.9,862.8) scale(0.89,1)" font-size="20">E</text>
<path d="M263.4,838V842" stroke="#333" stroke-width="1"/>
<text x="242.2" y="862.8" font-size="20">100°</text>
<text transform="translate(282.2,862.8) scale(0.89,1)" font-size="20">E</text>
<path d="M318.3,838V842" stroke="#333" stroke-width="1"/>
<text x="301.6" y="862.8" font-size="20">105°</text>
<text transform="translate(341.6,862.8) scale(0.89,1)" font-size="20">E</text>
<path d="M373.3,838V842" stroke="#333" stroke-width="1"/>
<text x="359.8" y="862.8" font-size="20">110°</text>
<text transform="translate(399.8,862.8) scale(0.89,1)" font-size="20">E</text>
<path d="M428.3,838V842" stroke="#333" stroke-width="1"/>
<text x="418" y="862.8" font-size="20">115°</text>
<text transform="translate(458,862.8) scale(0.89,1)" font-size="20">E</text>
<path d="M575,522.1H578" stroke="#333" stroke-width="1"/>
<text x="558.5" y="528.7" font-size="20" text-anchor="end">50°</text>
<text transform="translate(560.1,528.7) scale(0.87,1)" font-size="20">N</text>
<path d="M575,600.5H578" stroke="#333" stroke-width="1"/>
<text x="558.5" y="608.1" font-size="20" text-anchor="end">45°</text>
<text transform="translate(560.1,608.1) scale(0.87,1)" font-size="20">N</text>
<path d="M575,679.7H578" stroke="#333" stroke-width="1"/>
<text x="558.5" y="686.3" font-size="20" text-anchor="end">40°</text>
<text transform="translate(560.1,686.3) scale(0.87,1)" font-size="20">N</text>
<path d="M575,758.5H578" stroke="#333" stroke-width="1"/>
<text x="558.5" y="765.1" font-size="20" text-anchor="end">35°</text>
<text transform="translate(560.1,765.1) scale(0.87,1)" font-size="20">N</text>
<path d="M575,837.4H578" stroke="#333" stroke-width="1"/>
<text x="558.5" y="844" font-size="20" text-anchor="end">30°</text>
<text transform="translate(560.1,844) scale(0.87,1)" font-size="20">N</text>
<path d="M605.9,838V842" stroke="#333" stroke-width="1"/>
<text x="590.5" y="865" font-size="20">85°</text>
<text transform="translate(620.5,865) scale(0.89,1)" font-size="20">E</text>
<path d="M662.4,838V842" stroke="#333" stroke-width="1"/>
<text x="647.1" y="865" font-size="20">90°</text>
<text transform="translate(677.1,865) scale(0.89,1)" font-size="20">E</text>
<path d="M718.1,838V842" stroke="#333" stroke-width="1"/>
<text x="702.8" y="865" font-size="20">95°</text>
<text transform="translate(732.8,865) scale(0.89,1)" font-size="20">E</text>
<path d="M773.5,838V842" stroke="#333" stroke-width="1"/>
<text x="753.1" y="865" font-size="20">100°</text>
<text transform="translate(793.1,865) scale(0.89,1)" font-size="20">E</text>
<path d="M828.3,838V842" stroke="#333" stroke-width="1"/>
<text x="812.5" y="865" font-size="20">105°</text>
<text transform="translate(852.5,865) scale(0.89,1)" font-size="20">E</text>
<path d="M883.3,838V842" stroke="#333" stroke-width="1"/>
<text x="870.7" y="865" font-size="20">110°</text>
<text transform="translate(910.7,865) scale(0.89,1)" font-size="20">E</text>
<path d="M938.3,838V842" stroke="#333" stroke-width="1"/>
<text x="928.9" y="865" font-size="20">115°</text>
<text transform="translate(968.9,865) scale(0.89,1)" font-size="20">E</text>
<text x="255.9" y="24.6" font-size="20.5">(</text>
<text x="267.6" y="25.9" font-size="18.5" font-weight="bold">a</text>
<text x="280.5" y="24.6" font-size="20.5">)</text>
<text x="769.6" y="24.6" font-size="20.5">(</text>
<text x="781.7" y="25.9" font-size="20">b</text>
<text x="796.4" y="24.6" font-size="20.5">)</text>
<text x="258.6" y="458.5" font-size="20.5">(</text>
<text x="270.1" y="459.8" font-size="18.5" font-weight="bold">c</text>
<text x="283.4" y="458.5" font-size="20.5">)</text>
<text x="768.6" y="461" font-size="20.5">(</text>
<text x="780.7" y="462.3" font-size="20">d</text>
<text x="794.4" y="461" font-size="20.5">)</text>
<path d="M297.8,59.2 C299.2,61.1 303.5,66.7 306.3,70.4 C309.1,74.1 311.8,77.5 314.5,81.6 C317.2,85.7 320,90.3 322.7,94.9 C325.4,99.5 328.4,104.4 330.8,109.2 C333.2,114 334.8,119.1 336.9,123.5 C338.9,127.9 340.7,131.1 343.1,135.7 C345.5,140.3 348.5,146.6 351.2,151 C353.9,155.4 356,157.6 359.4,162.2 C362.8,166.8 367.5,173.1 371.6,178.6 C375.7,184.1 380.1,189.8 383.9,194.9 C387.6,200 391.2,204.8 394.1,209.2 C397,213.5 398.7,217.1 401,221 C403.3,224.9 405.1,228.1 407.7,232.5 C410.3,236.9 413.9,242.7 416.7,247.2 C419.5,251.7 422.6,255.9 424.7,259.7 C426.8,263.5 428.1,266.5 429.2,269.9 C430.3,273.3 431,276.7 431.3,280.1 C431.6,283.5 431.4,287.1 430.9,290.3 C430.4,293.5 429.5,296.4 428.1,299.4 C426.7,302.4 424.3,305.9 422.4,308.4 C420.5,310.8 418.1,313.2 416.7,314.1 C415.3,315.1 414.6,314.5 413.9,314.1 C413.1,313.7 412.5,312.2 412.2,311.8" fill="none" stroke="#ff0000" stroke-width="2.1" stroke-linecap="round" stroke-linejoin="round"/>
<path d="M411,306 C410.2,306 408.2,305.7 406.5,305.8 C404.8,305.9 402.8,306.3 400.6,306.8 C398.4,307.3 395.8,307.8 393.1,309 C390.4,310.2 387.3,311.8 384.4,313.8 C381.5,315.8 378.5,318.4 375.8,320.8 C373.1,323.2 370.5,325.9 368.3,328.4 C366.1,330.9 364.3,333.6 362.9,335.9 C361.5,338.2 360.4,340.1 359.7,342.4 C359,344.7 358.7,347 358.8,349.9 C358.9,352.8 359.5,356.6 360.2,359.6 C360.9,362.7 361.7,365.3 362.9,368.2 C364.1,371.1 365.8,374.7 367.2,376.8 C368.6,378.9 369.7,379.6 371.5,380.6 C373.3,381.6 375.9,382.4 378,382.7 C380.1,383 382.6,383 384.4,382.7 C386.2,382.4 388,381.9 388.8,381.1 C389.6,380.3 389.7,378.8 389.3,377.9 C388.9,377 387.8,376.1 386.6,375.7 C385.4,375.3 383.7,375.3 382.3,375.7 C380.9,376.1 378.7,377.5 378,377.9" fill="none" stroke="#0a30ff" stroke-width="2.1" stroke-linecap="round" stroke-linejoin="round"/>
<path d="M645.2,241.9 C646.1,242.2 648.7,243.1 650.8,243.5 C652.9,243.9 655.7,243.8 658,244.3 C660.3,244.8 661.9,245.3 664.4,246.4 C666.9,247.5 670.1,249.3 673.2,250.7 C676.3,252.1 679.3,253.5 682.8,254.9 C686.3,256.3 690.3,257.8 694,259.2 C697.7,260.6 701.5,262 705.2,263.2 C708.9,264.4 712.4,265.3 716.4,266.4 C720.4,267.5 724.9,268.8 729.2,269.9 C733.5,271 737.7,271.9 742,272.8 C746.3,273.7 750.5,274.4 754.8,275.2 C759.1,276 763.6,276.9 767.6,277.6 C771.6,278.3 775.1,278.8 778.8,279.5 C782.5,280.2 782.7,280.2 790,281.6 C797.3,283 811.9,285.9 822.4,287.8 C832.9,289.8 842.8,291.4 853,293.3 C863.2,295.2 876,297.8 883.7,299.4 C891.4,300.9 895,301.8 899,302.6 C903,303.4 905,303.7 908,304.1 C911,304.6 914.5,305 917,305.3 C919.5,305.6 922,305.9 923,306" fill="none" stroke="#b800ff" stroke-width="2.1" stroke-linecap="round" stroke-linejoin="round"/>
<path d="M718.4,46 C720.4,48.5 726.5,55.9 730.6,61.3 C734.7,66.6 739.3,72.5 742.9,78.1 C746.5,83.7 749,89.1 752,95 C755,100.9 757.6,106.4 761.2,113.3 C764.8,120.2 769.4,128.9 773.5,136.3 C777.6,143.7 781.6,151.3 785.7,157.7 C789.8,164.1 793.4,168.5 798,174.6 C802.6,180.7 808.2,187.9 813.3,194.5 C818.4,201.1 823.5,207.8 828.6,214.4 C833.7,221 838.8,227.6 843.9,234.2 C849,240.8 854.1,247.7 859.2,254.1 C864.3,260.5 869.4,266.9 874.5,272.5 C879.6,278.1 885.4,283.9 889.8,287.8 C894.2,291.7 898,293.6 900.8,296 C903.6,298.4 905.3,300.5 906.8,302 C908.3,303.5 908.8,304.2 909.8,305 C910.8,305.8 911.7,306.4 912.8,306.8 C913.9,307.2 915.2,307.6 916.4,307.7 C917.6,307.8 918.9,307.6 920,307.5 C921.1,307.4 922.5,307.2 923,307.2" fill="none" stroke="#0a30ff" stroke-width="2.1" stroke-linecap="round" stroke-linejoin="round"/>
<path d="M783.3,46 C785.2,48.5 791.4,56.2 794.9,61.3 C798.4,66.4 801,70.5 804.1,76.6 C807.2,82.7 810.5,90.8 813.3,98 C816.1,105.2 818.9,112.9 820.9,119.5 C822.9,126.1 823.7,131.2 825.5,137.8 C827.3,144.4 829.1,151.7 831.6,159.3 C834.1,167 837.7,176 840.8,183.7 C843.9,191.3 846.4,198 850,205.2 C853.6,212.3 857.6,219.5 862.2,226.6 C866.8,233.7 872.4,241.4 877.5,248 C882.6,254.6 888.4,261.3 892.8,266.4 C897.2,271.5 901.1,275.1 904,278.5 C906.9,281.9 908.4,284.2 910.4,286.5 C912.4,288.8 914,290.5 915.8,292.4 C917.6,294.3 919.9,296.4 921.2,298 C922.5,299.6 923.1,300.7 923.6,302 C924.1,303.3 924.4,305.3 924.5,306" fill="none" stroke="#ff0000" stroke-width="2.1" stroke-linecap="round" stroke-linejoin="round"/>
<path d="M342.3,538.4 C342.7,541.1 343.2,549 344.6,554.9 C346,560.8 348.3,567 350.9,573.9 C353.5,580.8 356.4,588.7 360.4,596.1 C364.4,603.5 369.7,611.4 374.7,618.3 C379.7,625.2 384.8,631.6 390.6,637.4 C396.4,643.2 402.7,648.5 409.6,653.2 C416.5,658 424.9,661.7 431.8,665.9 C438.7,670.1 445.2,674.9 450.8,678.6 C456.4,682.3 461.7,684.9 465.1,688.1 C468.6,691.3 469.9,694.1 471.5,697.7 C473.1,701.4 474.1,705.5 475,710 C475.9,714.5 476.8,720 476.9,725 C477,730 476.5,735.4 475.6,740 C474.7,744.6 473.3,748.8 471.3,752.5 C469.3,756.2 466.5,759.7 463.8,762.5 C461.1,765.3 457.7,767.7 455,769.4 C452.3,771.1 449.6,772.1 447.5,772.5 C445.4,772.9 443.8,772.5 442.5,771.9 C441.2,771.3 440.5,769.9 440,768.8 C439.5,767.6 439.5,765.6 439.4,765" fill="none" stroke="#ff0000" stroke-width="2.1" stroke-linecap="round" stroke-linejoin="round"/>
<path d="M284.3,593 C287.2,595.9 295.6,604.1 301.7,610.4 C307.8,616.7 315,624.9 320.8,631 C326.6,637.1 331.9,641.6 336.6,646.9 C341.4,652.2 344.5,657 349.3,662.8 C354.1,668.6 359.4,675.6 365.2,681.8 C370.9,688 379.2,695.5 383.8,700 C388.4,704.5 389.8,706.1 392.5,708.8 C395.2,711.5 397.5,713.5 400,716.3 C402.5,719.1 405,722.7 407.5,725.6 C410,728.5 412.9,731.2 415,733.8 C417.1,736.4 418.6,738.6 420,741.3 C421.4,744 422.3,747.1 423.1,750 C423.9,752.9 424.4,756.6 425,758.8 C425.6,761 426.1,762.2 426.9,763.1 C427.7,764 428.9,764.1 430,764 C431.1,763.9 432.8,763 433.8,762.5 C434.9,762 435.4,761.6 436.3,761.3 C437.2,761 438.6,760.6 439,760.5" fill="none" stroke="#0a30ff" stroke-width="2.1" stroke-linecap="round" stroke-linejoin="round"/>
<path d="M364.4,739.8 C365.5,740.9 369.1,744.2 371.3,746.3 C373.5,748.4 375.4,750.2 377.5,752.5 C379.6,754.8 381.7,757.5 383.8,760 C385.9,762.5 387.9,765 390,767.5 C392.1,770 394.3,772.6 396.3,775 C398.3,777.4 400.5,780 401.9,781.9 C403.2,783.8 403.8,784.9 404.4,786.3 C405,787.6 405.5,788.8 405.6,790 C405.7,791.2 405.4,793 405,793.8 C404.6,794.6 403.8,795.1 403.1,795 C402.4,794.9 401.4,794.1 401,793.1 C400.6,792.1 400.5,790.3 400.6,788.8 C400.8,787.2 401.2,785.6 401.9,783.8 C402.6,782 403.9,779.9 405,778.1 C406.1,776.3 407.3,774.7 408.8,773.1 C410.3,771.5 411.9,770 413.8,768.8 C415.7,767.5 417.9,766.5 420,765.6 C422.1,764.7 424.4,763.7 426.3,763.1 C428.2,762.5 429.9,762.2 431.3,761.9 C432.8,761.5 433.7,761.2 435,761 C436.3,760.8 438.3,760.8 439,760.8" fill="none" stroke="#12dc00" stroke-width="2.1" stroke-linecap="round" stroke-linejoin="round"/>
<path d="M714.4,706 C716,706.5 720.8,707.8 724,708.9 C727.2,710 730.4,710.9 733.6,712.4 C736.8,713.9 740.5,716.1 743.2,718 C745.9,719.9 747.5,721.2 749.6,723.6 C751.7,726 753.9,729.2 756,732.4 C758.1,735.6 760.3,739.2 762.4,742.8 C764.5,746.4 766.7,750.4 768.8,754 C770.9,757.6 773.1,761.2 775.2,764.4 C777.3,767.6 779.2,770.9 781.6,773.2 C784,775.5 786.9,776.3 789.6,778 C792.3,779.7 794.9,782.1 797.6,783.6 C800.3,785.1 802.9,786.8 805.6,787.3 C808.3,787.8 811.2,787.4 813.6,786.8 C816,786.2 817.9,785.3 820,783.6 C822.1,781.9 824.3,778.9 826.4,776.4 C828.5,773.9 830.7,770.7 832.8,768.4 C834.9,766.1 836.8,764.5 839.2,762.8 C841.6,761.1 844.5,759.2 847.2,758 C849.9,756.8 853.1,756.1 855.2,755.6 C857.3,755.1 856,755.1 860,754.8 C864,754.5 872.5,753.8 879.2,753.8 C885.9,753.8 893.6,753.9 900.1,754.5 C906.6,755.1 912.8,756.6 918.1,757.2 C923.4,757.8 927.5,757.7 931.7,758.1 C935.9,758.5 940.6,759.1 943.5,759.5 C946.4,759.9 948.1,760.3 949,760.5" fill="none" stroke="#b800ff" stroke-width="2.1" stroke-linecap="round" stroke-linejoin="round"/>
<path d="M759.1,483 C760.2,484.8 763.9,490.3 766,494 C768.1,497.7 769.7,500.3 772,505 C774.3,509.7 777.7,517 780,522.3 C782.3,527.6 783.9,532.2 786,537 C788.1,541.8 790.5,546.9 792.4,551.3 C794.3,555.7 795.8,559.4 797.5,563.5 C799.2,567.6 801,571.9 802.8,576.1 C804.5,580.3 806.3,584.4 808,588.5 C809.7,592.6 810.9,596.7 813.1,601 C815.3,605.3 818.2,610 821,614.5 C823.8,619 826.8,623.1 829.7,627.9 C832.6,632.7 835.4,638.1 838.5,643.5 C841.6,648.9 843.2,653.4 848.3,660 C853.3,666.6 862.5,676.4 868.8,683.1 C875.1,689.9 880.2,694.4 886.2,700.5 C892.2,706.6 900.4,715.7 904.5,720 C908.6,724.3 908.6,724.3 910.9,726.3 C913.2,728.3 915.7,730.1 918.1,731.8 C920.5,733.5 923.3,734.8 925.4,736.3 C927.5,737.8 929.1,739.1 930.8,740.9 C932.5,742.7 934,745.2 935.4,747.2 C936.8,749.2 937.8,751.2 939,752.7 C940.2,754.2 941.4,755.2 942.6,756.3 C943.8,757.3 945.2,758.3 946.3,759 C947.4,759.7 948.5,760.2 949,760.5" fill="none" stroke="#0a30ff" stroke-width="2.1" stroke-linecap="round" stroke-linejoin="round"/>
<path d="M826,522 C825.9,523.3 825.8,527 825.6,530 C825.4,533 825.6,536.7 825,540 C824.4,543.3 823.5,547 822,550 C820.5,553 818.1,555.7 816,558 C813.9,560.3 811,562.2 809.6,564 C808.2,565.8 807.6,567.2 807.6,569 C807.6,570.8 808.4,572.8 809.6,575 C810.8,577.2 813.1,579.7 815,582 C816.9,584.3 818.1,585.2 821,589 C823.9,592.8 829.2,599.8 832.2,604.8 C835.2,609.8 836.6,613.5 839.2,618.7 C841.8,623.9 844.7,630.4 847.9,636.2 C851.1,642 854.2,647.8 858.3,653.6 C862.4,659.4 867.6,665.8 872.3,671 C876.9,676.2 881.9,680.5 886.2,684.9 C890.6,689.2 894.3,693.3 898.4,697.1 C902.5,700.9 907.2,705 910.6,707.5 C914,710 916.1,709.9 919,712 C921.9,714.1 925.2,717.6 928.1,720 C931,722.4 933.7,724 936.3,726.3 C938.9,728.6 941.4,731.2 943.5,733.6 C945.6,736 947.6,738.6 949,740.9 C950.4,743.2 951.2,744.9 951.7,747.2 C952.2,749.5 952.4,752.5 952.2,754.5 C952.1,756.5 951,758.2 950.8,759" fill="none" stroke="#ff0000" stroke-width="2.1" stroke-linecap="round" stroke-linejoin="round"/>
<path d="M412,298.3 L414,304.5 L420.6,304.5 L415.3,308.4 L417.3,314.6 L412,310.7 L406.7,314.6 L408.7,308.4 L403.4,304.5 L410,304.5Z" fill="#ff0000"/>
<path d="M925.2,298.4 L927.2,304.6 L933.8,304.6 L928.5,308.5 L930.5,314.7 L925.2,310.8 L919.9,314.7 L921.9,308.5 L916.6,304.6 L923.2,304.6Z" fill="#ff0000"/>
<path d="M439.9,752.5 L441.9,758.6 L448.3,758.6 L443.1,762.3 L445.1,768.4 L439.9,764.7 L434.7,768.4 L436.7,762.3 L431.5,758.6 L437.9,758.6Z" fill="#ff0000"/>
<path d="M950,753.1 L952,759.2 L958.4,759.2 L953.2,762.9 L955.2,769 L950,765.3 L944.8,769 L946.8,762.9 L941.6,759.2 L948,759.2Z" fill="#ff0000"/>
<text transform="translate(84.2,64.7) scale(0.82,1)" font-size="14.5" text-anchor="middle">N</text>
<path d="M84.2,66.1 L77.9,89.1 L83.9,81.1Z" fill="#111"/>
<path d="M84.2,66.1 L90.4,89.5 L83.9,81.1" fill="none" stroke="#111" stroke-width="1"/>
<text transform="translate(595.4,63.9) scale(0.82,1)" font-size="14.5" text-anchor="middle">N</text>
<path d="M595.4,65.3 L589.1,88.3 L595.1,80.3Z" fill="#111"/>
<path d="M595.4,65.3 L601.6,88.7 L595.1,80.3" fill="none" stroke="#111" stroke-width="1"/>
<text transform="translate(84.2,498.4) scale(0.82,1)" font-size="14.5" text-anchor="middle">N</text>
<path d="M84.2,499.8 L77.9,522.8 L83.9,514.8Z" fill="#111"/>
<path d="M84.2,499.8 L90.4,523.2 L83.9,514.8" fill="none" stroke="#111" stroke-width="1"/>
<text transform="translate(595.3,500.1) scale(0.82,1)" font-size="14.5" text-anchor="middle">N</text>
<path d="M595.3,501.5 L589,524.5 L595,516.5Z" fill="#111"/>
<path d="M595.3,501.5 L601.5,524.9 L595,516.5" fill="none" stroke="#111" stroke-width="1"/>
<rect x="325.4" y="67.1" width="84.1" height="4" fill="#fff" stroke="#777" stroke-width="1"/>
<rect x="324.9" y="66.6" width="5.7" height="5" fill="#141919"/>
<rect x="335.7" y="66.6" width="5.4" height="5" fill="#141919"/>
<rect x="346.4" y="66.6" width="21.6" height="5" fill="#141919"/>
<rect x="388.9" y="66.6" width="21.1" height="5" fill="#141919"/>
<text x="413.6" y="69.7" font-size="14">km</text>
<text x="320.3" y="86" font-size="14.6">0</text>
<text x="356.2" y="86" font-size="14.6">360</text>
<text x="399.9" y="86" font-size="14.6">720</text>
<rect x="849.3" y="66.5" width="84.1" height="4" fill="#fff" stroke="#777" stroke-width="1"/>
<rect x="848.8" y="66" width="5.7" height="5" fill="#141919"/>
<rect x="859.6" y="66" width="5.4" height="5" fill="#141919"/>
<rect x="870.3" y="66" width="21.6" height="5" fill="#141919"/>
<rect x="912.8" y="66" width="21.1" height="5" fill="#141919"/>
<text x="937.5" y="69.1" font-size="14">km</text>
<text x="844.4" y="85.4" font-size="14.6">0</text>
<text x="880.3" y="85.4" font-size="14.6">360</text>
<text x="923.5" y="85.4" font-size="14.6">720</text>
<rect x="338.6" y="500.6" width="84.1" height="4" fill="#fff" stroke="#777" stroke-width="1"/>
<rect x="338.1" y="500.1" width="5.7" height="5" fill="#141919"/>
<rect x="348.9" y="500.1" width="5.4" height="5" fill="#141919"/>
<rect x="359.6" y="500.1" width="21.6" height="5" fill="#141919"/>
<rect x="402.1" y="500.1" width="21.1" height="5" fill="#141919"/>
<text x="427.5" y="503.2" font-size="14">km</text>
<text x="334.4" y="519.5" font-size="14.6">0</text>
<text x="370.3" y="519.5" font-size="14.6">360</text>
<text x="413.3" y="519.5" font-size="14.6">720</text>
<rect x="849" y="503" width="84.1" height="4" fill="#fff" stroke="#777" stroke-width="1"/>
<rect x="848.5" y="502.5" width="5.7" height="5" fill="#141919"/>
<rect x="859.3" y="502.5" width="5.4" height="5" fill="#141919"/>
<rect x="870" y="502.5" width="21.6" height="5" fill="#141919"/>
<rect x="912.5" y="502.5" width="21.1" height="5" fill="#141919"/>
<text x="938.5" y="505.6" font-size="14">km</text>
<text x="844.9" y="521.9" font-size="14.6">0</text>
<text x="881.2" y="521.9" font-size="14.6">360</text>
<text x="924.2" y="521.9" font-size="14.6">720</text>
<text x="360.1" y="150.8" font-size="14.2">1 000 m</text>
<text x="331.5" y="300.9" font-size="14.2">2 000 m</text>
<text x="687.3" y="103.2" font-size="14.2">2 000 m</text>
<text x="820.7" y="107.8" font-size="14.2">1 000 m</text>
<text x="678.9" y="237.2" font-size="14.2">4 000 m</text>
<text x="348.9" y="544.5" font-size="14.2">1 000 m</text>
<text x="287.1" y="588.6" font-size="14.2">2 000 m</text>
<text x="341.8" y="778.6" font-size="14.2">3 000 m</text>
<text x="715.7" y="510.5" font-size="14.2">2 000 m</text>
<text x="832.7" y="581.5" font-size="14.2">1 000 m</text>
<text x="765.7" y="723.5" font-size="14.2">4 000 m</text>
<text class="cjk" transform="translate(386.9,327.8) scale(1,0.9)" font-size="14.5">石家庄</text>
<text class="cjk" transform="translate(901,329.6) scale(1,0.9)" font-size="14.5">石家庄</text>
<text class="cjk" transform="translate(420.9,787.8) scale(1,1)" font-size="14.1">济南</text>
<text class="cjk" transform="translate(931.8,790.4) scale(1,1)" font-size="14.3">济南</text>
</svg>
</body></html>
